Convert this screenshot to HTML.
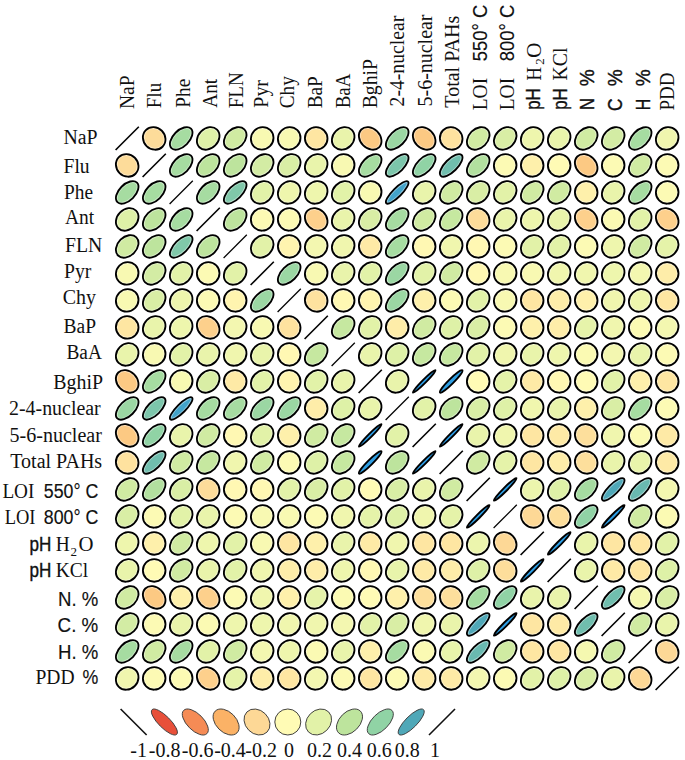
<!DOCTYPE html>
<html><head><meta charset="utf-8"><title>Correlation matrix</title>
<style>
html,body{margin:0;padding:0;background:#fff;}
body{width:685px;height:760px;overflow:hidden;font-family:"Liberation Serif",serif;}
svg{display:block;}
text{fill:#111;}
.h{stroke:#fff;stroke-opacity:.42;stroke-width:3.7}
.o{fill:none;stroke:#000;stroke-width:1.85}
</style></head><body>
<svg width="685" height="760" viewBox="0 0 685 760">
<rect width="685" height="760" fill="#ffffff"/>
<g>
<line x1="115.6" y1="150.0" x2="138.8" y2="126.8" stroke="#000" stroke-width="1.6"/>
<g transform="translate(154.2 138.4) rotate(-45)"><ellipse rx="10.79" ry="11.79" fill="#fddc9a" class="h"/><ellipse rx="10.79" ry="11.79" class="o"/></g>
<g transform="translate(181.2 138.4) rotate(-45)"><ellipse rx="13.84" ry="7.99" fill="#a6dca1" class="h"/><ellipse rx="13.84" ry="7.99" class="o"/></g>
<g transform="translate(208.2 138.4) rotate(-45)"><ellipse rx="12.48" ry="9.98" fill="#def1a7" class="h"/><ellipse rx="12.48" ry="9.98" class="o"/></g>
<g transform="translate(235.2 138.4) rotate(-45)"><ellipse rx="12.88" ry="9.45" fill="#d0eba2" class="h"/><ellipse rx="12.88" ry="9.45" class="o"/></g>
<g transform="translate(262.2 138.4) rotate(-45)"><ellipse rx="11.58" ry="11.01" fill="#f8f9b2" class="h"/><ellipse rx="11.58" ry="11.01" class="o"/></g>
<g transform="translate(289.2 138.4) rotate(-45)"><ellipse rx="11.58" ry="11.01" fill="#f8f9b2" class="h"/><ellipse rx="11.58" ry="11.01" class="o"/></g>
<g transform="translate(316.2 138.4) rotate(-45)"><ellipse rx="11.18" ry="11.41" fill="#fee6a2" class="h"/><ellipse rx="11.18" ry="11.41" class="o"/></g>
<g transform="translate(343.2 138.4) rotate(-45)"><ellipse rx="12.12" ry="10.42" fill="#e9f4ab" class="h"/><ellipse rx="12.12" ry="10.42" class="o"/></g>
<g transform="translate(370.2 138.4) rotate(-45)"><ellipse rx="9.86" ry="12.58" fill="#fcc983" class="h"/><ellipse rx="9.86" ry="12.58" class="o"/></g>
<g transform="translate(397.2 138.4) rotate(-45)"><ellipse rx="14.07" ry="7.58" fill="#9bd7a3" class="h"/><ellipse rx="14.07" ry="7.58" class="o"/></g>
<g transform="translate(424.2 138.4) rotate(-45)"><ellipse rx="9.86" ry="12.58" fill="#fcc983" class="h"/><ellipse rx="9.86" ry="12.58" class="o"/></g>
<g transform="translate(451.2 138.4) rotate(-45)"><ellipse rx="11.06" ry="11.54" fill="#fee29f" class="h"/><ellipse rx="11.06" ry="11.54" class="o"/></g>
<g transform="translate(478.2 138.4) rotate(-45)"><ellipse rx="12.88" ry="9.45" fill="#d0eba2" class="h"/><ellipse rx="12.88" ry="9.45" class="o"/></g>
<g transform="translate(505.2 138.4) rotate(-45)"><ellipse rx="12.63" ry="9.79" fill="#d9eea5" class="h"/><ellipse rx="12.63" ry="9.79" class="o"/></g>
<g transform="translate(532.2 138.4) rotate(-45)"><ellipse rx="11.96" ry="10.60" fill="#eef6ad" class="h"/><ellipse rx="11.96" ry="10.60" class="o"/></g>
<g transform="translate(559.2 138.4) rotate(-45)"><ellipse rx="12.12" ry="10.42" fill="#e9f4ab" class="h"/><ellipse rx="12.12" ry="10.42" class="o"/></g>
<g transform="translate(586.2 138.4) rotate(-45)"><ellipse rx="12.88" ry="9.45" fill="#d0eba2" class="h"/><ellipse rx="12.88" ry="9.45" class="o"/></g>
<g transform="translate(613.2 138.4) rotate(-45)"><ellipse rx="12.78" ry="9.59" fill="#d3eca4" class="h"/><ellipse rx="12.78" ry="9.59" class="o"/></g>
<g transform="translate(640.2 138.4) rotate(-45)"><ellipse rx="13.84" ry="7.99" fill="#a6dca1" class="h"/><ellipse rx="13.84" ry="7.99" class="o"/></g>
<g transform="translate(667.2 138.4) rotate(-45)"><ellipse rx="11.85" ry="10.72" fill="#f0f6ae" class="h"/><ellipse rx="11.85" ry="10.72" class="o"/></g>
<g transform="translate(127.2 165.4) rotate(-45)"><ellipse rx="10.79" ry="11.79" fill="#fddc9a" class="h"/><ellipse rx="10.79" ry="11.79" class="o"/></g>
<line x1="142.6" y1="177.0" x2="165.8" y2="153.8" stroke="#000" stroke-width="1.6"/>
<g transform="translate(181.2 165.4) rotate(-45)"><ellipse rx="13.84" ry="7.99" fill="#a6dca1" class="h"/><ellipse rx="13.84" ry="7.99" class="o"/></g>
<g transform="translate(208.2 165.4) rotate(-45)"><ellipse rx="13.37" ry="8.75" fill="#bde49d" class="h"/><ellipse rx="13.37" ry="8.75" class="o"/></g>
<g transform="translate(235.2 165.4) rotate(-45)"><ellipse rx="13.37" ry="8.75" fill="#bde49d" class="h"/><ellipse rx="13.37" ry="8.75" class="o"/></g>
<g transform="translate(262.2 165.4) rotate(-45)"><ellipse rx="12.78" ry="9.59" fill="#d3eca4" class="h"/><ellipse rx="12.78" ry="9.59" class="o"/></g>
<g transform="translate(289.2 165.4) rotate(-45)"><ellipse rx="12.63" ry="9.79" fill="#d9eea5" class="h"/><ellipse rx="12.63" ry="9.79" class="o"/></g>
<g transform="translate(316.2 165.4) rotate(-45)"><ellipse rx="12.12" ry="10.42" fill="#e9f4ab" class="h"/><ellipse rx="12.12" ry="10.42" class="o"/></g>
<g transform="translate(343.2 165.4) rotate(-45)"><ellipse rx="11.58" ry="11.01" fill="#f8f9b2" class="h"/><ellipse rx="11.58" ry="11.01" class="o"/></g>
<g transform="translate(370.2 165.4) rotate(-45)"><ellipse rx="13.84" ry="7.99" fill="#a6dca1" class="h"/><ellipse rx="13.84" ry="7.99" class="o"/></g>
<g transform="translate(397.2 165.4) rotate(-45)"><ellipse rx="14.56" ry="6.59" fill="#7cc6ab" class="h"/><ellipse rx="14.56" ry="6.59" class="o"/></g>
<g transform="translate(424.2 165.4) rotate(-45)"><ellipse rx="14.29" ry="7.15" fill="#90d3a5" class="h"/><ellipse rx="14.29" ry="7.15" class="o"/></g>
<g transform="translate(451.2 165.4) rotate(-45)"><ellipse rx="14.73" ry="6.19" fill="#70beae" class="h"/><ellipse rx="14.73" ry="6.19" class="o"/></g>
<g transform="translate(478.2 165.4) rotate(-45)"><ellipse rx="13.61" ry="8.38" fill="#b2e09f" class="h"/><ellipse rx="13.61" ry="8.38" class="o"/></g>
<g transform="translate(505.2 165.4) rotate(-45)"><ellipse rx="11.41" ry="11.19" fill="#fcfab4" class="h"/><ellipse rx="11.41" ry="11.19" class="o"/></g>
<g transform="translate(532.2 165.4) rotate(-45)"><ellipse rx="11.24" ry="11.36" fill="#fef0ab" class="h"/><ellipse rx="11.24" ry="11.36" class="o"/></g>
<g transform="translate(559.2 165.4) rotate(-45)"><ellipse rx="11.30" ry="11.30" fill="#fffbb5" class="h"/><ellipse rx="11.30" ry="11.30" class="o"/></g>
<g transform="translate(586.2 165.4) rotate(-45)"><ellipse rx="9.86" ry="12.58" fill="#fcc983" class="h"/><ellipse rx="9.86" ry="12.58" class="o"/></g>
<g transform="translate(613.2 165.4) rotate(-45)"><ellipse rx="11.41" ry="11.19" fill="#fcfab4" class="h"/><ellipse rx="11.41" ry="11.19" class="o"/></g>
<g transform="translate(640.2 165.4) rotate(-45)"><ellipse rx="12.88" ry="9.45" fill="#d0eba2" class="h"/><ellipse rx="12.88" ry="9.45" class="o"/></g>
<g transform="translate(667.2 165.4) rotate(-45)"><ellipse rx="11.41" ry="11.19" fill="#fcfab4" class="h"/><ellipse rx="11.41" ry="11.19" class="o"/></g>
<g transform="translate(127.2 192.4) rotate(-45)"><ellipse rx="13.84" ry="7.99" fill="#a6dca1" class="h"/><ellipse rx="13.84" ry="7.99" class="o"/></g>
<g transform="translate(154.2 192.4) rotate(-45)"><ellipse rx="13.84" ry="7.99" fill="#a6dca1" class="h"/><ellipse rx="13.84" ry="7.99" class="o"/></g>
<line x1="169.6" y1="204.0" x2="192.8" y2="180.8" stroke="#000" stroke-width="1.25"/>
<g transform="translate(208.2 192.4) rotate(-45)"><ellipse rx="13.84" ry="7.99" fill="#a6dca1" class="h"/><ellipse rx="13.84" ry="7.99" class="o"/></g>
<g transform="translate(235.2 192.4) rotate(-45)"><ellipse rx="14.52" ry="6.69" fill="#80c8aa" class="h"/><ellipse rx="14.52" ry="6.69" class="o"/></g>
<g transform="translate(262.2 192.4) rotate(-45)"><ellipse rx="12.38" ry="10.11" fill="#e2f2a8" class="h"/><ellipse rx="12.38" ry="10.11" class="o"/></g>
<g transform="translate(289.2 192.4) rotate(-45)"><ellipse rx="11.96" ry="10.60" fill="#eef6ad" class="h"/><ellipse rx="11.96" ry="10.60" class="o"/></g>
<g transform="translate(316.2 192.4) rotate(-45)"><ellipse rx="11.96" ry="10.60" fill="#eef6ad" class="h"/><ellipse rx="11.96" ry="10.60" class="o"/></g>
<g transform="translate(343.2 192.4) rotate(-45)"><ellipse rx="12.38" ry="10.11" fill="#e2f2a8" class="h"/><ellipse rx="12.38" ry="10.11" class="o"/></g>
<g transform="translate(370.2 192.4) rotate(-45)"><ellipse rx="11.58" ry="11.01" fill="#f8f9b2" class="h"/><ellipse rx="11.58" ry="11.01" class="o"/></g>
<g transform="translate(397.2 192.4) rotate(-45)"><ellipse rx="15.37" ry="4.38" fill="#42a3ca" class="h"/><ellipse rx="15.37" ry="4.38" class="o"/></g>
<g transform="translate(424.2 192.4) rotate(-45)"><ellipse rx="12.12" ry="10.42" fill="#e9f4ab" class="h"/><ellipse rx="12.12" ry="10.42" class="o"/></g>
<g transform="translate(451.2 192.4) rotate(-45)"><ellipse rx="12.88" ry="9.45" fill="#d0eba2" class="h"/><ellipse rx="12.88" ry="9.45" class="o"/></g>
<g transform="translate(478.2 192.4) rotate(-45)"><ellipse rx="12.63" ry="9.79" fill="#d9eea5" class="h"/><ellipse rx="12.63" ry="9.79" class="o"/></g>
<g transform="translate(505.2 192.4) rotate(-45)"><ellipse rx="12.38" ry="10.11" fill="#e2f2a8" class="h"/><ellipse rx="12.38" ry="10.11" class="o"/></g>
<g transform="translate(532.2 192.4) rotate(-45)"><ellipse rx="12.88" ry="9.45" fill="#d0eba2" class="h"/><ellipse rx="12.88" ry="9.45" class="o"/></g>
<g transform="translate(559.2 192.4) rotate(-45)"><ellipse rx="12.88" ry="9.45" fill="#d0eba2" class="h"/><ellipse rx="12.88" ry="9.45" class="o"/></g>
<g transform="translate(586.2 192.4) rotate(-45)"><ellipse rx="11.24" ry="11.36" fill="#fef0ab" class="h"/><ellipse rx="11.24" ry="11.36" class="o"/></g>
<g transform="translate(613.2 192.4) rotate(-45)"><ellipse rx="12.12" ry="10.42" fill="#e9f4ab" class="h"/><ellipse rx="12.12" ry="10.42" class="o"/></g>
<g transform="translate(640.2 192.4) rotate(-45)"><ellipse rx="13.84" ry="7.99" fill="#a6dca1" class="h"/><ellipse rx="13.84" ry="7.99" class="o"/></g>
<g transform="translate(667.2 192.4) rotate(-45)"><ellipse rx="11.41" ry="11.19" fill="#fcfab4" class="h"/><ellipse rx="11.41" ry="11.19" class="o"/></g>
<g transform="translate(127.2 219.4) rotate(-45)"><ellipse rx="12.48" ry="9.98" fill="#def1a7" class="h"/><ellipse rx="12.48" ry="9.98" class="o"/></g>
<g transform="translate(154.2 219.4) rotate(-45)"><ellipse rx="13.37" ry="8.75" fill="#bde49d" class="h"/><ellipse rx="13.37" ry="8.75" class="o"/></g>
<g transform="translate(181.2 219.4) rotate(-45)"><ellipse rx="13.84" ry="7.99" fill="#a6dca1" class="h"/><ellipse rx="13.84" ry="7.99" class="o"/></g>
<line x1="196.6" y1="231.0" x2="219.8" y2="207.8" stroke="#000" stroke-width="1.6"/>
<g transform="translate(235.2 219.4) rotate(-45)"><ellipse rx="13.37" ry="8.75" fill="#bde49d" class="h"/><ellipse rx="13.37" ry="8.75" class="o"/></g>
<g transform="translate(262.2 219.4) rotate(-45)"><ellipse rx="11.41" ry="11.19" fill="#fcfab4" class="h"/><ellipse rx="11.41" ry="11.19" class="o"/></g>
<g transform="translate(289.2 219.4) rotate(-45)"><ellipse rx="11.41" ry="11.19" fill="#fcfab4" class="h"/><ellipse rx="11.41" ry="11.19" class="o"/></g>
<g transform="translate(316.2 219.4) rotate(-45)"><ellipse rx="10.22" ry="12.28" fill="#fdd08c" class="h"/><ellipse rx="10.22" ry="12.28" class="o"/></g>
<g transform="translate(343.2 219.4) rotate(-45)"><ellipse rx="12.12" ry="10.42" fill="#e9f4ab" class="h"/><ellipse rx="12.12" ry="10.42" class="o"/></g>
<g transform="translate(370.2 219.4) rotate(-45)"><ellipse rx="12.63" ry="9.79" fill="#d9eea5" class="h"/><ellipse rx="12.63" ry="9.79" class="o"/></g>
<g transform="translate(397.2 219.4) rotate(-45)"><ellipse rx="13.84" ry="7.99" fill="#a6dca1" class="h"/><ellipse rx="13.84" ry="7.99" class="o"/></g>
<g transform="translate(424.2 219.4) rotate(-45)"><ellipse rx="12.88" ry="9.45" fill="#d0eba2" class="h"/><ellipse rx="12.88" ry="9.45" class="o"/></g>
<g transform="translate(451.2 219.4) rotate(-45)"><ellipse rx="13.13" ry="9.11" fill="#c6e8a0" class="h"/><ellipse rx="13.13" ry="9.11" class="o"/></g>
<g transform="translate(478.2 219.4) rotate(-45)"><ellipse rx="10.79" ry="11.79" fill="#fddc9a" class="h"/><ellipse rx="10.79" ry="11.79" class="o"/></g>
<g transform="translate(505.2 219.4) rotate(-45)"><ellipse rx="12.12" ry="10.42" fill="#e9f4ab" class="h"/><ellipse rx="12.12" ry="10.42" class="o"/></g>
<g transform="translate(532.2 219.4) rotate(-45)"><ellipse rx="11.96" ry="10.60" fill="#eef6ad" class="h"/><ellipse rx="11.96" ry="10.60" class="o"/></g>
<g transform="translate(559.2 219.4) rotate(-45)"><ellipse rx="12.12" ry="10.42" fill="#e9f4ab" class="h"/><ellipse rx="12.12" ry="10.42" class="o"/></g>
<g transform="translate(586.2 219.4) rotate(-45)"><ellipse rx="10.22" ry="12.28" fill="#fdd08c" class="h"/><ellipse rx="10.22" ry="12.28" class="o"/></g>
<g transform="translate(613.2 219.4) rotate(-45)"><ellipse rx="11.47" ry="11.13" fill="#fbfab3" class="h"/><ellipse rx="11.47" ry="11.13" class="o"/></g>
<g transform="translate(640.2 219.4) rotate(-45)"><ellipse rx="12.38" ry="10.11" fill="#e2f2a8" class="h"/><ellipse rx="12.38" ry="10.11" class="o"/></g>
<g transform="translate(667.2 219.4) rotate(-45)"><ellipse rx="10.22" ry="12.28" fill="#fdd08c" class="h"/><ellipse rx="10.22" ry="12.28" class="o"/></g>
<g transform="translate(127.2 246.4) rotate(-45)"><ellipse rx="12.88" ry="9.45" fill="#d0eba2" class="h"/><ellipse rx="12.88" ry="9.45" class="o"/></g>
<g transform="translate(154.2 246.4) rotate(-45)"><ellipse rx="13.37" ry="8.75" fill="#bde49d" class="h"/><ellipse rx="13.37" ry="8.75" class="o"/></g>
<g transform="translate(181.2 246.4) rotate(-45)"><ellipse rx="14.52" ry="6.69" fill="#80c8aa" class="h"/><ellipse rx="14.52" ry="6.69" class="o"/></g>
<g transform="translate(208.2 246.4) rotate(-45)"><ellipse rx="13.37" ry="8.75" fill="#bde49d" class="h"/><ellipse rx="13.37" ry="8.75" class="o"/></g>
<line x1="223.6" y1="258.0" x2="246.8" y2="234.8" stroke="#000" stroke-width="1.25"/>
<g transform="translate(262.2 246.4) rotate(-45)"><ellipse rx="12.38" ry="10.11" fill="#e2f2a8" class="h"/><ellipse rx="12.38" ry="10.11" class="o"/></g>
<g transform="translate(289.2 246.4) rotate(-45)"><ellipse rx="11.26" ry="11.34" fill="#fff4af" class="h"/><ellipse rx="11.26" ry="11.34" class="o"/></g>
<g transform="translate(316.2 246.4) rotate(-45)"><ellipse rx="11.74" ry="10.84" fill="#f3f7b0" class="h"/><ellipse rx="11.74" ry="10.84" class="o"/></g>
<g transform="translate(343.2 246.4) rotate(-45)"><ellipse rx="11.85" ry="10.72" fill="#f0f6ae" class="h"/><ellipse rx="11.85" ry="10.72" class="o"/></g>
<g transform="translate(370.2 246.4) rotate(-45)"><ellipse rx="11.21" ry="11.39" fill="#feeaa6" class="h"/><ellipse rx="11.21" ry="11.39" class="o"/></g>
<g transform="translate(397.2 246.4) rotate(-45)"><ellipse rx="13.84" ry="7.99" fill="#a6dca1" class="h"/><ellipse rx="13.84" ry="7.99" class="o"/></g>
<g transform="translate(424.2 246.4) rotate(-45)"><ellipse rx="11.28" ry="11.32" fill="#fff8b3" class="h"/><ellipse rx="11.28" ry="11.32" class="o"/></g>
<g transform="translate(451.2 246.4) rotate(-45)"><ellipse rx="11.85" ry="10.72" fill="#f0f6ae" class="h"/><ellipse rx="11.85" ry="10.72" class="o"/></g>
<g transform="translate(478.2 246.4) rotate(-45)"><ellipse rx="11.28" ry="11.32" fill="#fff8b3" class="h"/><ellipse rx="11.28" ry="11.32" class="o"/></g>
<g transform="translate(505.2 246.4) rotate(-45)"><ellipse rx="11.41" ry="11.19" fill="#fcfab4" class="h"/><ellipse rx="11.41" ry="11.19" class="o"/></g>
<g transform="translate(532.2 246.4) rotate(-45)"><ellipse rx="12.38" ry="10.11" fill="#e2f2a8" class="h"/><ellipse rx="12.38" ry="10.11" class="o"/></g>
<g transform="translate(559.2 246.4) rotate(-45)"><ellipse rx="12.38" ry="10.11" fill="#e2f2a8" class="h"/><ellipse rx="12.38" ry="10.11" class="o"/></g>
<g transform="translate(586.2 246.4) rotate(-45)"><ellipse rx="11.41" ry="11.19" fill="#fcfab4" class="h"/><ellipse rx="11.41" ry="11.19" class="o"/></g>
<g transform="translate(613.2 246.4) rotate(-45)"><ellipse rx="11.96" ry="10.60" fill="#eef6ad" class="h"/><ellipse rx="11.96" ry="10.60" class="o"/></g>
<g transform="translate(640.2 246.4) rotate(-45)"><ellipse rx="12.88" ry="9.45" fill="#d0eba2" class="h"/><ellipse rx="12.88" ry="9.45" class="o"/></g>
<g transform="translate(667.2 246.4) rotate(-45)"><ellipse rx="12.27" ry="10.23" fill="#e5f3a9" class="h"/><ellipse rx="12.27" ry="10.23" class="o"/></g>
<g transform="translate(127.2 273.4) rotate(-45)"><ellipse rx="11.58" ry="11.01" fill="#f8f9b2" class="h"/><ellipse rx="11.58" ry="11.01" class="o"/></g>
<g transform="translate(154.2 273.4) rotate(-45)"><ellipse rx="12.78" ry="9.59" fill="#d3eca4" class="h"/><ellipse rx="12.78" ry="9.59" class="o"/></g>
<g transform="translate(181.2 273.4) rotate(-45)"><ellipse rx="12.38" ry="10.11" fill="#e2f2a8" class="h"/><ellipse rx="12.38" ry="10.11" class="o"/></g>
<g transform="translate(208.2 273.4) rotate(-45)"><ellipse rx="11.41" ry="11.19" fill="#fcfab4" class="h"/><ellipse rx="11.41" ry="11.19" class="o"/></g>
<g transform="translate(235.2 273.4) rotate(-45)"><ellipse rx="12.38" ry="10.11" fill="#e2f2a8" class="h"/><ellipse rx="12.38" ry="10.11" class="o"/></g>
<line x1="250.6" y1="285.0" x2="273.8" y2="261.8" stroke="#000" stroke-width="1.6"/>
<g transform="translate(289.2 273.4) rotate(-45)"><ellipse rx="14.07" ry="7.58" fill="#9bd7a3" class="h"/><ellipse rx="14.07" ry="7.58" class="o"/></g>
<g transform="translate(316.2 273.4) rotate(-45)"><ellipse rx="11.58" ry="11.01" fill="#f8f9b2" class="h"/><ellipse rx="11.58" ry="11.01" class="o"/></g>
<g transform="translate(343.2 273.4) rotate(-45)"><ellipse rx="12.12" ry="10.42" fill="#e9f4ab" class="h"/><ellipse rx="12.12" ry="10.42" class="o"/></g>
<g transform="translate(370.2 273.4) rotate(-45)"><ellipse rx="12.38" ry="10.11" fill="#e2f2a8" class="h"/><ellipse rx="12.38" ry="10.11" class="o"/></g>
<g transform="translate(397.2 273.4) rotate(-45)"><ellipse rx="14.07" ry="7.58" fill="#9bd7a3" class="h"/><ellipse rx="14.07" ry="7.58" class="o"/></g>
<g transform="translate(424.2 273.4) rotate(-45)"><ellipse rx="12.38" ry="10.11" fill="#e2f2a8" class="h"/><ellipse rx="12.38" ry="10.11" class="o"/></g>
<g transform="translate(451.2 273.4) rotate(-45)"><ellipse rx="12.88" ry="9.45" fill="#d0eba2" class="h"/><ellipse rx="12.88" ry="9.45" class="o"/></g>
<g transform="translate(478.2 273.4) rotate(-45)"><ellipse rx="11.28" ry="11.32" fill="#fff8b3" class="h"/><ellipse rx="11.28" ry="11.32" class="o"/></g>
<g transform="translate(505.2 273.4) rotate(-45)"><ellipse rx="11.58" ry="11.01" fill="#f8f9b2" class="h"/><ellipse rx="11.58" ry="11.01" class="o"/></g>
<g transform="translate(532.2 273.4) rotate(-45)"><ellipse rx="11.58" ry="11.01" fill="#f8f9b2" class="h"/><ellipse rx="11.58" ry="11.01" class="o"/></g>
<g transform="translate(559.2 273.4) rotate(-45)"><ellipse rx="11.85" ry="10.72" fill="#f0f6ae" class="h"/><ellipse rx="11.85" ry="10.72" class="o"/></g>
<g transform="translate(586.2 273.4) rotate(-45)"><ellipse rx="11.85" ry="10.72" fill="#f0f6ae" class="h"/><ellipse rx="11.85" ry="10.72" class="o"/></g>
<g transform="translate(613.2 273.4) rotate(-45)"><ellipse rx="11.96" ry="10.60" fill="#eef6ad" class="h"/><ellipse rx="11.96" ry="10.60" class="o"/></g>
<g transform="translate(640.2 273.4) rotate(-45)"><ellipse rx="11.74" ry="10.84" fill="#f3f7b0" class="h"/><ellipse rx="11.74" ry="10.84" class="o"/></g>
<g transform="translate(667.2 273.4) rotate(-45)"><ellipse rx="11.22" ry="11.38" fill="#feeda9" class="h"/><ellipse rx="11.22" ry="11.38" class="o"/></g>
<g transform="translate(127.2 300.4) rotate(-45)"><ellipse rx="11.58" ry="11.01" fill="#f8f9b2" class="h"/><ellipse rx="11.58" ry="11.01" class="o"/></g>
<g transform="translate(154.2 300.4) rotate(-45)"><ellipse rx="12.63" ry="9.79" fill="#d9eea5" class="h"/><ellipse rx="12.63" ry="9.79" class="o"/></g>
<g transform="translate(181.2 300.4) rotate(-45)"><ellipse rx="11.96" ry="10.60" fill="#eef6ad" class="h"/><ellipse rx="11.96" ry="10.60" class="o"/></g>
<g transform="translate(208.2 300.4) rotate(-45)"><ellipse rx="11.41" ry="11.19" fill="#fcfab4" class="h"/><ellipse rx="11.41" ry="11.19" class="o"/></g>
<g transform="translate(235.2 300.4) rotate(-45)"><ellipse rx="11.26" ry="11.34" fill="#fff4af" class="h"/><ellipse rx="11.26" ry="11.34" class="o"/></g>
<g transform="translate(262.2 300.4) rotate(-45)"><ellipse rx="14.07" ry="7.58" fill="#9bd7a3" class="h"/><ellipse rx="14.07" ry="7.58" class="o"/></g>
<line x1="277.6" y1="312.0" x2="300.8" y2="288.8" stroke="#000" stroke-width="1.25"/>
<g transform="translate(316.2 300.4) rotate(-45)"><ellipse rx="11.06" ry="11.54" fill="#fee29f" class="h"/><ellipse rx="11.06" ry="11.54" class="o"/></g>
<g transform="translate(343.2 300.4) rotate(-45)"><ellipse rx="11.28" ry="11.32" fill="#fff8b3" class="h"/><ellipse rx="11.28" ry="11.32" class="o"/></g>
<g transform="translate(370.2 300.4) rotate(-45)"><ellipse rx="11.26" ry="11.34" fill="#fff4af" class="h"/><ellipse rx="11.26" ry="11.34" class="o"/></g>
<g transform="translate(397.2 300.4) rotate(-45)"><ellipse rx="14.07" ry="7.58" fill="#9bd7a3" class="h"/><ellipse rx="14.07" ry="7.58" class="o"/></g>
<g transform="translate(424.2 300.4) rotate(-45)"><ellipse rx="11.24" ry="11.36" fill="#fef0ab" class="h"/><ellipse rx="11.24" ry="11.36" class="o"/></g>
<g transform="translate(451.2 300.4) rotate(-45)"><ellipse rx="11.41" ry="11.19" fill="#fcfab4" class="h"/><ellipse rx="11.41" ry="11.19" class="o"/></g>
<g transform="translate(478.2 300.4) rotate(-45)"><ellipse rx="12.38" ry="10.11" fill="#e2f2a8" class="h"/><ellipse rx="12.38" ry="10.11" class="o"/></g>
<g transform="translate(505.2 300.4) rotate(-45)"><ellipse rx="11.58" ry="11.01" fill="#f8f9b2" class="h"/><ellipse rx="11.58" ry="11.01" class="o"/></g>
<g transform="translate(532.2 300.4) rotate(-45)"><ellipse rx="11.18" ry="11.41" fill="#fee6a2" class="h"/><ellipse rx="11.18" ry="11.41" class="o"/></g>
<g transform="translate(559.2 300.4) rotate(-45)"><ellipse rx="11.22" ry="11.38" fill="#feeda9" class="h"/><ellipse rx="11.22" ry="11.38" class="o"/></g>
<g transform="translate(586.2 300.4) rotate(-45)"><ellipse rx="11.24" ry="11.36" fill="#fef0ab" class="h"/><ellipse rx="11.24" ry="11.36" class="o"/></g>
<g transform="translate(613.2 300.4) rotate(-45)"><ellipse rx="11.85" ry="10.72" fill="#f0f6ae" class="h"/><ellipse rx="11.85" ry="10.72" class="o"/></g>
<g transform="translate(640.2 300.4) rotate(-45)"><ellipse rx="11.96" ry="10.60" fill="#eef6ad" class="h"/><ellipse rx="11.96" ry="10.60" class="o"/></g>
<g transform="translate(667.2 300.4) rotate(-45)"><ellipse rx="11.18" ry="11.41" fill="#fee6a2" class="h"/><ellipse rx="11.18" ry="11.41" class="o"/></g>
<g transform="translate(127.2 327.4) rotate(-45)"><ellipse rx="11.18" ry="11.41" fill="#fee6a2" class="h"/><ellipse rx="11.18" ry="11.41" class="o"/></g>
<g transform="translate(154.2 327.4) rotate(-45)"><ellipse rx="12.12" ry="10.42" fill="#e9f4ab" class="h"/><ellipse rx="12.12" ry="10.42" class="o"/></g>
<g transform="translate(181.2 327.4) rotate(-45)"><ellipse rx="11.96" ry="10.60" fill="#eef6ad" class="h"/><ellipse rx="11.96" ry="10.60" class="o"/></g>
<g transform="translate(208.2 327.4) rotate(-45)"><ellipse rx="10.22" ry="12.28" fill="#fdd08c" class="h"/><ellipse rx="10.22" ry="12.28" class="o"/></g>
<g transform="translate(235.2 327.4) rotate(-45)"><ellipse rx="11.74" ry="10.84" fill="#f3f7b0" class="h"/><ellipse rx="11.74" ry="10.84" class="o"/></g>
<g transform="translate(262.2 327.4) rotate(-45)"><ellipse rx="11.58" ry="11.01" fill="#f8f9b2" class="h"/><ellipse rx="11.58" ry="11.01" class="o"/></g>
<g transform="translate(289.2 327.4) rotate(-45)"><ellipse rx="11.06" ry="11.54" fill="#fee29f" class="h"/><ellipse rx="11.06" ry="11.54" class="o"/></g>
<line x1="304.6" y1="339.0" x2="327.8" y2="315.8" stroke="#000" stroke-width="1.6"/>
<g transform="translate(343.2 327.4) rotate(-45)"><ellipse rx="13.13" ry="9.11" fill="#c6e8a0" class="h"/><ellipse rx="13.13" ry="9.11" class="o"/></g>
<g transform="translate(370.2 327.4) rotate(-45)"><ellipse rx="12.38" ry="10.11" fill="#e2f2a8" class="h"/><ellipse rx="12.38" ry="10.11" class="o"/></g>
<g transform="translate(397.2 327.4) rotate(-45)"><ellipse rx="11.22" ry="11.38" fill="#feeda9" class="h"/><ellipse rx="11.22" ry="11.38" class="o"/></g>
<g transform="translate(424.2 327.4) rotate(-45)"><ellipse rx="12.88" ry="9.45" fill="#d0eba2" class="h"/><ellipse rx="12.88" ry="9.45" class="o"/></g>
<g transform="translate(451.2 327.4) rotate(-45)"><ellipse rx="12.48" ry="9.98" fill="#def1a7" class="h"/><ellipse rx="12.48" ry="9.98" class="o"/></g>
<g transform="translate(478.2 327.4) rotate(-45)"><ellipse rx="12.63" ry="9.79" fill="#d9eea5" class="h"/><ellipse rx="12.63" ry="9.79" class="o"/></g>
<g transform="translate(505.2 327.4) rotate(-45)"><ellipse rx="11.41" ry="11.19" fill="#fcfab4" class="h"/><ellipse rx="11.41" ry="11.19" class="o"/></g>
<g transform="translate(532.2 327.4) rotate(-45)"><ellipse rx="11.24" ry="11.36" fill="#fef0ab" class="h"/><ellipse rx="11.24" ry="11.36" class="o"/></g>
<g transform="translate(559.2 327.4) rotate(-45)"><ellipse rx="11.22" ry="11.38" fill="#feeda9" class="h"/><ellipse rx="11.22" ry="11.38" class="o"/></g>
<g transform="translate(586.2 327.4) rotate(-45)"><ellipse rx="12.22" ry="10.29" fill="#e6f3aa" class="h"/><ellipse rx="12.22" ry="10.29" class="o"/></g>
<g transform="translate(613.2 327.4) rotate(-45)"><ellipse rx="11.85" ry="10.72" fill="#f0f6ae" class="h"/><ellipse rx="11.85" ry="10.72" class="o"/></g>
<g transform="translate(640.2 327.4) rotate(-45)"><ellipse rx="11.47" ry="11.13" fill="#fbfab3" class="h"/><ellipse rx="11.47" ry="11.13" class="o"/></g>
<g transform="translate(667.2 327.4) rotate(-45)"><ellipse rx="11.74" ry="10.84" fill="#f3f7b0" class="h"/><ellipse rx="11.74" ry="10.84" class="o"/></g>
<g transform="translate(127.2 354.4) rotate(-45)"><ellipse rx="12.12" ry="10.42" fill="#e9f4ab" class="h"/><ellipse rx="12.12" ry="10.42" class="o"/></g>
<g transform="translate(154.2 354.4) rotate(-45)"><ellipse rx="11.58" ry="11.01" fill="#f8f9b2" class="h"/><ellipse rx="11.58" ry="11.01" class="o"/></g>
<g transform="translate(181.2 354.4) rotate(-45)"><ellipse rx="12.38" ry="10.11" fill="#e2f2a8" class="h"/><ellipse rx="12.38" ry="10.11" class="o"/></g>
<g transform="translate(208.2 354.4) rotate(-45)"><ellipse rx="12.12" ry="10.42" fill="#e9f4ab" class="h"/><ellipse rx="12.12" ry="10.42" class="o"/></g>
<g transform="translate(235.2 354.4) rotate(-45)"><ellipse rx="11.85" ry="10.72" fill="#f0f6ae" class="h"/><ellipse rx="11.85" ry="10.72" class="o"/></g>
<g transform="translate(262.2 354.4) rotate(-45)"><ellipse rx="12.12" ry="10.42" fill="#e9f4ab" class="h"/><ellipse rx="12.12" ry="10.42" class="o"/></g>
<g transform="translate(289.2 354.4) rotate(-45)"><ellipse rx="11.28" ry="11.32" fill="#fff8b3" class="h"/><ellipse rx="11.28" ry="11.32" class="o"/></g>
<g transform="translate(316.2 354.4) rotate(-45)"><ellipse rx="13.13" ry="9.11" fill="#c6e8a0" class="h"/><ellipse rx="13.13" ry="9.11" class="o"/></g>
<line x1="331.6" y1="366.0" x2="354.8" y2="342.8" stroke="#000" stroke-width="1.25"/>
<g transform="translate(370.2 354.4) rotate(-45)"><ellipse rx="12.12" ry="10.42" fill="#e9f4ab" class="h"/><ellipse rx="12.12" ry="10.42" class="o"/></g>
<g transform="translate(397.2 354.4) rotate(-45)"><ellipse rx="12.48" ry="9.98" fill="#def1a7" class="h"/><ellipse rx="12.48" ry="9.98" class="o"/></g>
<g transform="translate(424.2 354.4) rotate(-45)"><ellipse rx="13.13" ry="9.11" fill="#c6e8a0" class="h"/><ellipse rx="13.13" ry="9.11" class="o"/></g>
<g transform="translate(451.2 354.4) rotate(-45)"><ellipse rx="13.13" ry="9.11" fill="#c6e8a0" class="h"/><ellipse rx="13.13" ry="9.11" class="o"/></g>
<g transform="translate(478.2 354.4) rotate(-45)"><ellipse rx="12.38" ry="10.11" fill="#e2f2a8" class="h"/><ellipse rx="12.38" ry="10.11" class="o"/></g>
<g transform="translate(505.2 354.4) rotate(-45)"><ellipse rx="11.85" ry="10.72" fill="#f0f6ae" class="h"/><ellipse rx="11.85" ry="10.72" class="o"/></g>
<g transform="translate(532.2 354.4) rotate(-45)"><ellipse rx="12.12" ry="10.42" fill="#e9f4ab" class="h"/><ellipse rx="12.12" ry="10.42" class="o"/></g>
<g transform="translate(559.2 354.4) rotate(-45)"><ellipse rx="11.96" ry="10.60" fill="#eef6ad" class="h"/><ellipse rx="11.96" ry="10.60" class="o"/></g>
<g transform="translate(586.2 354.4) rotate(-45)"><ellipse rx="11.47" ry="11.13" fill="#fbfab3" class="h"/><ellipse rx="11.47" ry="11.13" class="o"/></g>
<g transform="translate(613.2 354.4) rotate(-45)"><ellipse rx="11.74" ry="10.84" fill="#f3f7b0" class="h"/><ellipse rx="11.74" ry="10.84" class="o"/></g>
<g transform="translate(640.2 354.4) rotate(-45)"><ellipse rx="12.12" ry="10.42" fill="#e9f4ab" class="h"/><ellipse rx="12.12" ry="10.42" class="o"/></g>
<g transform="translate(667.2 354.4) rotate(-45)"><ellipse rx="11.41" ry="11.19" fill="#fcfab4" class="h"/><ellipse rx="11.41" ry="11.19" class="o"/></g>
<g transform="translate(127.2 381.4) rotate(-45)"><ellipse rx="9.86" ry="12.58" fill="#fcc983" class="h"/><ellipse rx="9.86" ry="12.58" class="o"/></g>
<g transform="translate(154.2 381.4) rotate(-45)"><ellipse rx="13.84" ry="7.99" fill="#a6dca1" class="h"/><ellipse rx="13.84" ry="7.99" class="o"/></g>
<g transform="translate(181.2 381.4) rotate(-45)"><ellipse rx="11.58" ry="11.01" fill="#f8f9b2" class="h"/><ellipse rx="11.58" ry="11.01" class="o"/></g>
<g transform="translate(208.2 381.4) rotate(-45)"><ellipse rx="12.63" ry="9.79" fill="#d9eea5" class="h"/><ellipse rx="12.63" ry="9.79" class="o"/></g>
<g transform="translate(235.2 381.4) rotate(-45)"><ellipse rx="11.21" ry="11.39" fill="#feeaa6" class="h"/><ellipse rx="11.21" ry="11.39" class="o"/></g>
<g transform="translate(262.2 381.4) rotate(-45)"><ellipse rx="12.38" ry="10.11" fill="#e2f2a8" class="h"/><ellipse rx="12.38" ry="10.11" class="o"/></g>
<g transform="translate(289.2 381.4) rotate(-45)"><ellipse rx="11.26" ry="11.34" fill="#fff4af" class="h"/><ellipse rx="11.26" ry="11.34" class="o"/></g>
<g transform="translate(316.2 381.4) rotate(-45)"><ellipse rx="12.38" ry="10.11" fill="#e2f2a8" class="h"/><ellipse rx="12.38" ry="10.11" class="o"/></g>
<g transform="translate(343.2 381.4) rotate(-45)"><ellipse rx="12.12" ry="10.42" fill="#e9f4ab" class="h"/><ellipse rx="12.12" ry="10.42" class="o"/></g>
<line x1="358.6" y1="393.0" x2="381.8" y2="369.8" stroke="#000" stroke-width="1.6"/>
<g transform="translate(397.2 381.4) rotate(-45)"><ellipse rx="12.12" ry="10.42" fill="#e9f4ab" class="h"/><ellipse rx="12.12" ry="10.42" class="o"/></g>
<ellipse cx="424.2" cy="381.4" rx="15.88" ry="1.79" transform="rotate(-45 424.2 381.4)" fill="#2c9ce4" stroke="#000" stroke-width="1.85"/>
<ellipse cx="451.2" cy="381.4" rx="15.78" ry="2.53" transform="rotate(-45 451.2 381.4)" fill="#2f9de1" stroke="#000" stroke-width="1.85"/>
<g transform="translate(478.2 381.4) rotate(-45)"><ellipse rx="11.30" ry="11.30" fill="#fffbb5" class="h"/><ellipse rx="11.30" ry="11.30" class="o"/></g>
<g transform="translate(505.2 381.4) rotate(-45)"><ellipse rx="12.27" ry="10.23" fill="#e5f3a9" class="h"/><ellipse rx="12.27" ry="10.23" class="o"/></g>
<g transform="translate(532.2 381.4) rotate(-45)"><ellipse rx="11.21" ry="11.39" fill="#feeaa6" class="h"/><ellipse rx="11.21" ry="11.39" class="o"/></g>
<g transform="translate(559.2 381.4) rotate(-45)"><ellipse rx="11.28" ry="11.32" fill="#fff8b3" class="h"/><ellipse rx="11.28" ry="11.32" class="o"/></g>
<g transform="translate(586.2 381.4) rotate(-45)"><ellipse rx="11.30" ry="11.30" fill="#fffbb5" class="h"/><ellipse rx="11.30" ry="11.30" class="o"/></g>
<g transform="translate(613.2 381.4) rotate(-45)"><ellipse rx="12.38" ry="10.11" fill="#e2f2a8" class="h"/><ellipse rx="12.38" ry="10.11" class="o"/></g>
<g transform="translate(640.2 381.4) rotate(-45)"><ellipse rx="11.24" ry="11.36" fill="#fef0ab" class="h"/><ellipse rx="11.24" ry="11.36" class="o"/></g>
<g transform="translate(667.2 381.4) rotate(-45)"><ellipse rx="11.18" ry="11.41" fill="#fee6a2" class="h"/><ellipse rx="11.18" ry="11.41" class="o"/></g>
<g transform="translate(127.2 408.4) rotate(-45)"><ellipse rx="14.07" ry="7.58" fill="#9bd7a3" class="h"/><ellipse rx="14.07" ry="7.58" class="o"/></g>
<g transform="translate(154.2 408.4) rotate(-45)"><ellipse rx="14.56" ry="6.59" fill="#7cc6ab" class="h"/><ellipse rx="14.56" ry="6.59" class="o"/></g>
<g transform="translate(181.2 408.4) rotate(-45)"><ellipse rx="15.37" ry="4.38" fill="#42a3ca" class="h"/><ellipse rx="15.37" ry="4.38" class="o"/></g>
<g transform="translate(208.2 408.4) rotate(-45)"><ellipse rx="13.84" ry="7.99" fill="#a6dca1" class="h"/><ellipse rx="13.84" ry="7.99" class="o"/></g>
<g transform="translate(235.2 408.4) rotate(-45)"><ellipse rx="13.84" ry="7.99" fill="#a6dca1" class="h"/><ellipse rx="13.84" ry="7.99" class="o"/></g>
<g transform="translate(262.2 408.4) rotate(-45)"><ellipse rx="14.07" ry="7.58" fill="#9bd7a3" class="h"/><ellipse rx="14.07" ry="7.58" class="o"/></g>
<g transform="translate(289.2 408.4) rotate(-45)"><ellipse rx="14.07" ry="7.58" fill="#9bd7a3" class="h"/><ellipse rx="14.07" ry="7.58" class="o"/></g>
<g transform="translate(316.2 408.4) rotate(-45)"><ellipse rx="11.22" ry="11.38" fill="#feeda9" class="h"/><ellipse rx="11.22" ry="11.38" class="o"/></g>
<g transform="translate(343.2 408.4) rotate(-45)"><ellipse rx="12.48" ry="9.98" fill="#def1a7" class="h"/><ellipse rx="12.48" ry="9.98" class="o"/></g>
<g transform="translate(370.2 408.4) rotate(-45)"><ellipse rx="12.12" ry="10.42" fill="#e9f4ab" class="h"/><ellipse rx="12.12" ry="10.42" class="o"/></g>
<line x1="385.6" y1="420.0" x2="408.8" y2="396.8" stroke="#000" stroke-width="1.25"/>
<g transform="translate(424.2 408.4) rotate(-45)"><ellipse rx="12.38" ry="10.11" fill="#e2f2a8" class="h"/><ellipse rx="12.38" ry="10.11" class="o"/></g>
<g transform="translate(451.2 408.4) rotate(-45)"><ellipse rx="13.37" ry="8.75" fill="#bde49d" class="h"/><ellipse rx="13.37" ry="8.75" class="o"/></g>
<g transform="translate(478.2 408.4) rotate(-45)"><ellipse rx="12.63" ry="9.79" fill="#d9eea5" class="h"/><ellipse rx="12.63" ry="9.79" class="o"/></g>
<g transform="translate(505.2 408.4) rotate(-45)"><ellipse rx="12.48" ry="9.98" fill="#def1a7" class="h"/><ellipse rx="12.48" ry="9.98" class="o"/></g>
<g transform="translate(532.2 408.4) rotate(-45)"><ellipse rx="11.85" ry="10.72" fill="#f0f6ae" class="h"/><ellipse rx="11.85" ry="10.72" class="o"/></g>
<g transform="translate(559.2 408.4) rotate(-45)"><ellipse rx="12.17" ry="10.36" fill="#e8f4ab" class="h"/><ellipse rx="12.17" ry="10.36" class="o"/></g>
<g transform="translate(586.2 408.4) rotate(-45)"><ellipse rx="11.24" ry="11.36" fill="#fef0ab" class="h"/><ellipse rx="11.24" ry="11.36" class="o"/></g>
<g transform="translate(613.2 408.4) rotate(-45)"><ellipse rx="12.63" ry="9.79" fill="#d9eea5" class="h"/><ellipse rx="12.63" ry="9.79" class="o"/></g>
<g transform="translate(640.2 408.4) rotate(-45)"><ellipse rx="13.84" ry="7.99" fill="#a6dca1" class="h"/><ellipse rx="13.84" ry="7.99" class="o"/></g>
<g transform="translate(667.2 408.4) rotate(-45)"><ellipse rx="11.41" ry="11.19" fill="#fcfab4" class="h"/><ellipse rx="11.41" ry="11.19" class="o"/></g>
<g transform="translate(127.2 435.4) rotate(-45)"><ellipse rx="9.86" ry="12.58" fill="#fcc983" class="h"/><ellipse rx="9.86" ry="12.58" class="o"/></g>
<g transform="translate(154.2 435.4) rotate(-45)"><ellipse rx="14.29" ry="7.15" fill="#90d3a5" class="h"/><ellipse rx="14.29" ry="7.15" class="o"/></g>
<g transform="translate(181.2 435.4) rotate(-45)"><ellipse rx="12.12" ry="10.42" fill="#e9f4ab" class="h"/><ellipse rx="12.12" ry="10.42" class="o"/></g>
<g transform="translate(208.2 435.4) rotate(-45)"><ellipse rx="12.88" ry="9.45" fill="#d0eba2" class="h"/><ellipse rx="12.88" ry="9.45" class="o"/></g>
<g transform="translate(235.2 435.4) rotate(-45)"><ellipse rx="11.28" ry="11.32" fill="#fff8b3" class="h"/><ellipse rx="11.28" ry="11.32" class="o"/></g>
<g transform="translate(262.2 435.4) rotate(-45)"><ellipse rx="12.38" ry="10.11" fill="#e2f2a8" class="h"/><ellipse rx="12.38" ry="10.11" class="o"/></g>
<g transform="translate(289.2 435.4) rotate(-45)"><ellipse rx="11.24" ry="11.36" fill="#fef0ab" class="h"/><ellipse rx="11.24" ry="11.36" class="o"/></g>
<g transform="translate(316.2 435.4) rotate(-45)"><ellipse rx="12.88" ry="9.45" fill="#d0eba2" class="h"/><ellipse rx="12.88" ry="9.45" class="o"/></g>
<g transform="translate(343.2 435.4) rotate(-45)"><ellipse rx="13.13" ry="9.11" fill="#c6e8a0" class="h"/><ellipse rx="13.13" ry="9.11" class="o"/></g>
<ellipse cx="370.2" cy="435.4" rx="15.88" ry="1.79" transform="rotate(-45 370.2 435.4)" fill="#2c9ce4" stroke="#000" stroke-width="1.85"/>
<g transform="translate(397.2 435.4) rotate(-45)"><ellipse rx="12.38" ry="10.11" fill="#e2f2a8" class="h"/><ellipse rx="12.38" ry="10.11" class="o"/></g>
<line x1="412.6" y1="447.0" x2="435.8" y2="423.8" stroke="#000" stroke-width="1.6"/>
<ellipse cx="451.2" cy="435.4" rx="15.88" ry="1.79" transform="rotate(-45 451.2 435.4)" fill="#2c9ce4" stroke="#000" stroke-width="1.85"/>
<g transform="translate(478.2 435.4) rotate(-45)"><ellipse rx="12.12" ry="10.42" fill="#e9f4ab" class="h"/><ellipse rx="12.12" ry="10.42" class="o"/></g>
<g transform="translate(505.2 435.4) rotate(-45)"><ellipse rx="11.85" ry="10.72" fill="#f0f6ae" class="h"/><ellipse rx="11.85" ry="10.72" class="o"/></g>
<g transform="translate(532.2 435.4) rotate(-45)"><ellipse rx="11.18" ry="11.41" fill="#fee6a2" class="h"/><ellipse rx="11.18" ry="11.41" class="o"/></g>
<g transform="translate(559.2 435.4) rotate(-45)"><ellipse rx="11.21" ry="11.39" fill="#feeaa6" class="h"/><ellipse rx="11.21" ry="11.39" class="o"/></g>
<g transform="translate(586.2 435.4) rotate(-45)"><ellipse rx="10.93" ry="11.66" fill="#fddf9c" class="h"/><ellipse rx="10.93" ry="11.66" class="o"/></g>
<g transform="translate(613.2 435.4) rotate(-45)"><ellipse rx="11.85" ry="10.72" fill="#f0f6ae" class="h"/><ellipse rx="11.85" ry="10.72" class="o"/></g>
<g transform="translate(640.2 435.4) rotate(-45)"><ellipse rx="11.47" ry="11.13" fill="#fbfab3" class="h"/><ellipse rx="11.47" ry="11.13" class="o"/></g>
<g transform="translate(667.2 435.4) rotate(-45)"><ellipse rx="11.21" ry="11.39" fill="#feeaa6" class="h"/><ellipse rx="11.21" ry="11.39" class="o"/></g>
<g transform="translate(127.2 462.4) rotate(-45)"><ellipse rx="11.06" ry="11.54" fill="#fee29f" class="h"/><ellipse rx="11.06" ry="11.54" class="o"/></g>
<g transform="translate(154.2 462.4) rotate(-45)"><ellipse rx="14.73" ry="6.19" fill="#70beae" class="h"/><ellipse rx="14.73" ry="6.19" class="o"/></g>
<g transform="translate(181.2 462.4) rotate(-45)"><ellipse rx="12.88" ry="9.45" fill="#d0eba2" class="h"/><ellipse rx="12.88" ry="9.45" class="o"/></g>
<g transform="translate(208.2 462.4) rotate(-45)"><ellipse rx="13.13" ry="9.11" fill="#c6e8a0" class="h"/><ellipse rx="13.13" ry="9.11" class="o"/></g>
<g transform="translate(235.2 462.4) rotate(-45)"><ellipse rx="11.85" ry="10.72" fill="#f0f6ae" class="h"/><ellipse rx="11.85" ry="10.72" class="o"/></g>
<g transform="translate(262.2 462.4) rotate(-45)"><ellipse rx="12.88" ry="9.45" fill="#d0eba2" class="h"/><ellipse rx="12.88" ry="9.45" class="o"/></g>
<g transform="translate(289.2 462.4) rotate(-45)"><ellipse rx="11.41" ry="11.19" fill="#fcfab4" class="h"/><ellipse rx="11.41" ry="11.19" class="o"/></g>
<g transform="translate(316.2 462.4) rotate(-45)"><ellipse rx="12.48" ry="9.98" fill="#def1a7" class="h"/><ellipse rx="12.48" ry="9.98" class="o"/></g>
<g transform="translate(343.2 462.4) rotate(-45)"><ellipse rx="13.13" ry="9.11" fill="#c6e8a0" class="h"/><ellipse rx="13.13" ry="9.11" class="o"/></g>
<ellipse cx="370.2" cy="462.4" rx="15.78" ry="2.53" transform="rotate(-45 370.2 462.4)" fill="#2f9de1" stroke="#000" stroke-width="1.85"/>
<g transform="translate(397.2 462.4) rotate(-45)"><ellipse rx="13.37" ry="8.75" fill="#bde49d" class="h"/><ellipse rx="13.37" ry="8.75" class="o"/></g>
<ellipse cx="424.2" cy="462.4" rx="15.88" ry="1.79" transform="rotate(-45 424.2 462.4)" fill="#2c9ce4" stroke="#000" stroke-width="1.85"/>
<line x1="439.6" y1="474.0" x2="462.8" y2="450.8" stroke="#000" stroke-width="1.6"/>
<g transform="translate(478.2 462.4) rotate(-45)"><ellipse rx="12.88" ry="9.45" fill="#d0eba2" class="h"/><ellipse rx="12.88" ry="9.45" class="o"/></g>
<g transform="translate(505.2 462.4) rotate(-45)"><ellipse rx="12.27" ry="10.23" fill="#e5f3a9" class="h"/><ellipse rx="12.27" ry="10.23" class="o"/></g>
<g transform="translate(532.2 462.4) rotate(-45)"><ellipse rx="11.18" ry="11.41" fill="#fee6a2" class="h"/><ellipse rx="11.18" ry="11.41" class="o"/></g>
<g transform="translate(559.2 462.4) rotate(-45)"><ellipse rx="11.22" ry="11.38" fill="#feeda9" class="h"/><ellipse rx="11.22" ry="11.38" class="o"/></g>
<g transform="translate(586.2 462.4) rotate(-45)"><ellipse rx="10.93" ry="11.66" fill="#fddf9c" class="h"/><ellipse rx="10.93" ry="11.66" class="o"/></g>
<g transform="translate(613.2 462.4) rotate(-45)"><ellipse rx="12.12" ry="10.42" fill="#e9f4ab" class="h"/><ellipse rx="12.12" ry="10.42" class="o"/></g>
<g transform="translate(640.2 462.4) rotate(-45)"><ellipse rx="12.12" ry="10.42" fill="#e9f4ab" class="h"/><ellipse rx="12.12" ry="10.42" class="o"/></g>
<g transform="translate(667.2 462.4) rotate(-45)"><ellipse rx="11.21" ry="11.39" fill="#feeaa6" class="h"/><ellipse rx="11.21" ry="11.39" class="o"/></g>
<g transform="translate(127.2 489.4) rotate(-45)"><ellipse rx="12.88" ry="9.45" fill="#d0eba2" class="h"/><ellipse rx="12.88" ry="9.45" class="o"/></g>
<g transform="translate(154.2 489.4) rotate(-45)"><ellipse rx="13.61" ry="8.38" fill="#b2e09f" class="h"/><ellipse rx="13.61" ry="8.38" class="o"/></g>
<g transform="translate(181.2 489.4) rotate(-45)"><ellipse rx="12.63" ry="9.79" fill="#d9eea5" class="h"/><ellipse rx="12.63" ry="9.79" class="o"/></g>
<g transform="translate(208.2 489.4) rotate(-45)"><ellipse rx="10.79" ry="11.79" fill="#fddc9a" class="h"/><ellipse rx="10.79" ry="11.79" class="o"/></g>
<g transform="translate(235.2 489.4) rotate(-45)"><ellipse rx="11.28" ry="11.32" fill="#fff8b3" class="h"/><ellipse rx="11.28" ry="11.32" class="o"/></g>
<g transform="translate(262.2 489.4) rotate(-45)"><ellipse rx="11.28" ry="11.32" fill="#fff8b3" class="h"/><ellipse rx="11.28" ry="11.32" class="o"/></g>
<g transform="translate(289.2 489.4) rotate(-45)"><ellipse rx="12.38" ry="10.11" fill="#e2f2a8" class="h"/><ellipse rx="12.38" ry="10.11" class="o"/></g>
<g transform="translate(316.2 489.4) rotate(-45)"><ellipse rx="12.63" ry="9.79" fill="#d9eea5" class="h"/><ellipse rx="12.63" ry="9.79" class="o"/></g>
<g transform="translate(343.2 489.4) rotate(-45)"><ellipse rx="12.38" ry="10.11" fill="#e2f2a8" class="h"/><ellipse rx="12.38" ry="10.11" class="o"/></g>
<g transform="translate(370.2 489.4) rotate(-45)"><ellipse rx="11.30" ry="11.30" fill="#fffbb5" class="h"/><ellipse rx="11.30" ry="11.30" class="o"/></g>
<g transform="translate(397.2 489.4) rotate(-45)"><ellipse rx="12.63" ry="9.79" fill="#d9eea5" class="h"/><ellipse rx="12.63" ry="9.79" class="o"/></g>
<g transform="translate(424.2 489.4) rotate(-45)"><ellipse rx="12.12" ry="10.42" fill="#e9f4ab" class="h"/><ellipse rx="12.12" ry="10.42" class="o"/></g>
<g transform="translate(451.2 489.4) rotate(-45)"><ellipse rx="12.88" ry="9.45" fill="#d0eba2" class="h"/><ellipse rx="12.88" ry="9.45" class="o"/></g>
<line x1="466.6" y1="501.0" x2="489.8" y2="477.8" stroke="#000" stroke-width="1.6"/>
<ellipse cx="505.2" cy="489.4" rx="15.87" ry="1.89" transform="rotate(-45 505.2 489.4)" fill="#2d9de3" stroke="#000" stroke-width="1.85"/>
<g transform="translate(532.2 489.4) rotate(-45)"><ellipse rx="12.01" ry="10.54" fill="#ecf5ad" class="h"/><ellipse rx="12.01" ry="10.54" class="o"/></g>
<g transform="translate(559.2 489.4) rotate(-45)"><ellipse rx="12.48" ry="9.98" fill="#def1a7" class="h"/><ellipse rx="12.48" ry="9.98" class="o"/></g>
<g transform="translate(586.2 489.4) rotate(-45)"><ellipse rx="13.84" ry="7.99" fill="#a6dca1" class="h"/><ellipse rx="13.84" ry="7.99" class="o"/></g>
<g transform="translate(613.2 489.4) rotate(-45)"><ellipse rx="15.16" ry="5.05" fill="#4fa8b8" class="h"/><ellipse rx="15.16" ry="5.05" class="o"/></g>
<g transform="translate(640.2 489.4) rotate(-45)"><ellipse rx="14.82" ry="5.98" fill="#69b9b0" class="h"/><ellipse rx="14.82" ry="5.98" class="o"/></g>
<g transform="translate(667.2 489.4) rotate(-45)"><ellipse rx="11.74" ry="10.84" fill="#f3f7b0" class="h"/><ellipse rx="11.74" ry="10.84" class="o"/></g>
<g transform="translate(127.2 516.4) rotate(-45)"><ellipse rx="12.63" ry="9.79" fill="#d9eea5" class="h"/><ellipse rx="12.63" ry="9.79" class="o"/></g>
<g transform="translate(154.2 516.4) rotate(-45)"><ellipse rx="11.41" ry="11.19" fill="#fcfab4" class="h"/><ellipse rx="11.41" ry="11.19" class="o"/></g>
<g transform="translate(181.2 516.4) rotate(-45)"><ellipse rx="12.38" ry="10.11" fill="#e2f2a8" class="h"/><ellipse rx="12.38" ry="10.11" class="o"/></g>
<g transform="translate(208.2 516.4) rotate(-45)"><ellipse rx="12.12" ry="10.42" fill="#e9f4ab" class="h"/><ellipse rx="12.12" ry="10.42" class="o"/></g>
<g transform="translate(235.2 516.4) rotate(-45)"><ellipse rx="11.41" ry="11.19" fill="#fcfab4" class="h"/><ellipse rx="11.41" ry="11.19" class="o"/></g>
<g transform="translate(262.2 516.4) rotate(-45)"><ellipse rx="11.58" ry="11.01" fill="#f8f9b2" class="h"/><ellipse rx="11.58" ry="11.01" class="o"/></g>
<g transform="translate(289.2 516.4) rotate(-45)"><ellipse rx="11.58" ry="11.01" fill="#f8f9b2" class="h"/><ellipse rx="11.58" ry="11.01" class="o"/></g>
<g transform="translate(316.2 516.4) rotate(-45)"><ellipse rx="11.41" ry="11.19" fill="#fcfab4" class="h"/><ellipse rx="11.41" ry="11.19" class="o"/></g>
<g transform="translate(343.2 516.4) rotate(-45)"><ellipse rx="11.85" ry="10.72" fill="#f0f6ae" class="h"/><ellipse rx="11.85" ry="10.72" class="o"/></g>
<g transform="translate(370.2 516.4) rotate(-45)"><ellipse rx="12.27" ry="10.23" fill="#e5f3a9" class="h"/><ellipse rx="12.27" ry="10.23" class="o"/></g>
<g transform="translate(397.2 516.4) rotate(-45)"><ellipse rx="12.48" ry="9.98" fill="#def1a7" class="h"/><ellipse rx="12.48" ry="9.98" class="o"/></g>
<g transform="translate(424.2 516.4) rotate(-45)"><ellipse rx="11.85" ry="10.72" fill="#f0f6ae" class="h"/><ellipse rx="11.85" ry="10.72" class="o"/></g>
<g transform="translate(451.2 516.4) rotate(-45)"><ellipse rx="12.27" ry="10.23" fill="#e5f3a9" class="h"/><ellipse rx="12.27" ry="10.23" class="o"/></g>
<ellipse cx="478.2" cy="516.4" rx="15.87" ry="1.89" transform="rotate(-45 478.2 516.4)" fill="#2d9de3" stroke="#000" stroke-width="1.85"/>
<line x1="493.6" y1="528.0" x2="516.8" y2="504.8" stroke="#000" stroke-width="1.25"/>
<g transform="translate(532.2 516.4) rotate(-45)"><ellipse rx="10.58" ry="11.98" fill="#fdd896" class="h"/><ellipse rx="10.58" ry="11.98" class="o"/></g>
<g transform="translate(559.2 516.4) rotate(-45)"><ellipse rx="10.86" ry="11.73" fill="#fdde9b" class="h"/><ellipse rx="10.86" ry="11.73" class="o"/></g>
<g transform="translate(586.2 516.4) rotate(-45)"><ellipse rx="14.29" ry="7.15" fill="#90d3a5" class="h"/><ellipse rx="14.29" ry="7.15" class="o"/></g>
<ellipse cx="613.2" cy="516.4" rx="15.85" ry="2.02" transform="rotate(-45 613.2 516.4)" fill="#2d9de3" stroke="#000" stroke-width="1.85"/>
<g transform="translate(640.2 516.4) rotate(-45)"><ellipse rx="12.88" ry="9.45" fill="#d0eba2" class="h"/><ellipse rx="12.88" ry="9.45" class="o"/></g>
<g transform="translate(667.2 516.4) rotate(-45)"><ellipse rx="11.47" ry="11.13" fill="#fbfab3" class="h"/><ellipse rx="11.47" ry="11.13" class="o"/></g>
<g transform="translate(127.2 543.4) rotate(-45)"><ellipse rx="11.96" ry="10.60" fill="#eef6ad" class="h"/><ellipse rx="11.96" ry="10.60" class="o"/></g>
<g transform="translate(154.2 543.4) rotate(-45)"><ellipse rx="11.24" ry="11.36" fill="#fef0ab" class="h"/><ellipse rx="11.24" ry="11.36" class="o"/></g>
<g transform="translate(181.2 543.4) rotate(-45)"><ellipse rx="12.88" ry="9.45" fill="#d0eba2" class="h"/><ellipse rx="12.88" ry="9.45" class="o"/></g>
<g transform="translate(208.2 543.4) rotate(-45)"><ellipse rx="11.96" ry="10.60" fill="#eef6ad" class="h"/><ellipse rx="11.96" ry="10.60" class="o"/></g>
<g transform="translate(235.2 543.4) rotate(-45)"><ellipse rx="12.38" ry="10.11" fill="#e2f2a8" class="h"/><ellipse rx="12.38" ry="10.11" class="o"/></g>
<g transform="translate(262.2 543.4) rotate(-45)"><ellipse rx="11.58" ry="11.01" fill="#f8f9b2" class="h"/><ellipse rx="11.58" ry="11.01" class="o"/></g>
<g transform="translate(289.2 543.4) rotate(-45)"><ellipse rx="11.18" ry="11.41" fill="#fee6a2" class="h"/><ellipse rx="11.18" ry="11.41" class="o"/></g>
<g transform="translate(316.2 543.4) rotate(-45)"><ellipse rx="11.24" ry="11.36" fill="#fef0ab" class="h"/><ellipse rx="11.24" ry="11.36" class="o"/></g>
<g transform="translate(343.2 543.4) rotate(-45)"><ellipse rx="12.12" ry="10.42" fill="#e9f4ab" class="h"/><ellipse rx="12.12" ry="10.42" class="o"/></g>
<g transform="translate(370.2 543.4) rotate(-45)"><ellipse rx="11.21" ry="11.39" fill="#feeaa6" class="h"/><ellipse rx="11.21" ry="11.39" class="o"/></g>
<g transform="translate(397.2 543.4) rotate(-45)"><ellipse rx="11.85" ry="10.72" fill="#f0f6ae" class="h"/><ellipse rx="11.85" ry="10.72" class="o"/></g>
<g transform="translate(424.2 543.4) rotate(-45)"><ellipse rx="11.18" ry="11.41" fill="#fee6a2" class="h"/><ellipse rx="11.18" ry="11.41" class="o"/></g>
<g transform="translate(451.2 543.4) rotate(-45)"><ellipse rx="11.18" ry="11.41" fill="#fee6a2" class="h"/><ellipse rx="11.18" ry="11.41" class="o"/></g>
<g transform="translate(478.2 543.4) rotate(-45)"><ellipse rx="12.01" ry="10.54" fill="#ecf5ad" class="h"/><ellipse rx="12.01" ry="10.54" class="o"/></g>
<g transform="translate(505.2 543.4) rotate(-45)"><ellipse rx="10.58" ry="11.98" fill="#fdd896" class="h"/><ellipse rx="10.58" ry="11.98" class="o"/></g>
<line x1="520.6" y1="555.0" x2="543.8" y2="531.8" stroke="#000" stroke-width="1.6"/>
<ellipse cx="559.2" cy="543.4" rx="15.86" ry="1.96" transform="rotate(-45 559.2 543.4)" fill="#2d9de3" stroke="#000" stroke-width="1.85"/>
<g transform="translate(586.2 543.4) rotate(-45)"><ellipse rx="12.12" ry="10.42" fill="#e9f4ab" class="h"/><ellipse rx="12.12" ry="10.42" class="o"/></g>
<g transform="translate(613.2 543.4) rotate(-45)"><ellipse rx="11.18" ry="11.41" fill="#fee6a2" class="h"/><ellipse rx="11.18" ry="11.41" class="o"/></g>
<g transform="translate(640.2 543.4) rotate(-45)"><ellipse rx="11.18" ry="11.41" fill="#fee6a2" class="h"/><ellipse rx="11.18" ry="11.41" class="o"/></g>
<g transform="translate(667.2 543.4) rotate(-45)"><ellipse rx="12.38" ry="10.11" fill="#e2f2a8" class="h"/><ellipse rx="12.38" ry="10.11" class="o"/></g>
<g transform="translate(127.2 570.4) rotate(-45)"><ellipse rx="12.12" ry="10.42" fill="#e9f4ab" class="h"/><ellipse rx="12.12" ry="10.42" class="o"/></g>
<g transform="translate(154.2 570.4) rotate(-45)"><ellipse rx="11.30" ry="11.30" fill="#fffbb5" class="h"/><ellipse rx="11.30" ry="11.30" class="o"/></g>
<g transform="translate(181.2 570.4) rotate(-45)"><ellipse rx="12.88" ry="9.45" fill="#d0eba2" class="h"/><ellipse rx="12.88" ry="9.45" class="o"/></g>
<g transform="translate(208.2 570.4) rotate(-45)"><ellipse rx="12.12" ry="10.42" fill="#e9f4ab" class="h"/><ellipse rx="12.12" ry="10.42" class="o"/></g>
<g transform="translate(235.2 570.4) rotate(-45)"><ellipse rx="12.38" ry="10.11" fill="#e2f2a8" class="h"/><ellipse rx="12.38" ry="10.11" class="o"/></g>
<g transform="translate(262.2 570.4) rotate(-45)"><ellipse rx="11.85" ry="10.72" fill="#f0f6ae" class="h"/><ellipse rx="11.85" ry="10.72" class="o"/></g>
<g transform="translate(289.2 570.4) rotate(-45)"><ellipse rx="11.22" ry="11.38" fill="#feeda9" class="h"/><ellipse rx="11.22" ry="11.38" class="o"/></g>
<g transform="translate(316.2 570.4) rotate(-45)"><ellipse rx="11.22" ry="11.38" fill="#feeda9" class="h"/><ellipse rx="11.22" ry="11.38" class="o"/></g>
<g transform="translate(343.2 570.4) rotate(-45)"><ellipse rx="11.96" ry="10.60" fill="#eef6ad" class="h"/><ellipse rx="11.96" ry="10.60" class="o"/></g>
<g transform="translate(370.2 570.4) rotate(-45)"><ellipse rx="11.28" ry="11.32" fill="#fff8b3" class="h"/><ellipse rx="11.28" ry="11.32" class="o"/></g>
<g transform="translate(397.2 570.4) rotate(-45)"><ellipse rx="12.17" ry="10.36" fill="#e8f4ab" class="h"/><ellipse rx="12.17" ry="10.36" class="o"/></g>
<g transform="translate(424.2 570.4) rotate(-45)"><ellipse rx="11.21" ry="11.39" fill="#feeaa6" class="h"/><ellipse rx="11.21" ry="11.39" class="o"/></g>
<g transform="translate(451.2 570.4) rotate(-45)"><ellipse rx="11.22" ry="11.38" fill="#feeda9" class="h"/><ellipse rx="11.22" ry="11.38" class="o"/></g>
<g transform="translate(478.2 570.4) rotate(-45)"><ellipse rx="12.48" ry="9.98" fill="#def1a7" class="h"/><ellipse rx="12.48" ry="9.98" class="o"/></g>
<g transform="translate(505.2 570.4) rotate(-45)"><ellipse rx="10.86" ry="11.73" fill="#fdde9b" class="h"/><ellipse rx="10.86" ry="11.73" class="o"/></g>
<ellipse cx="532.2" cy="570.4" rx="15.86" ry="1.96" transform="rotate(-45 532.2 570.4)" fill="#2d9de3" stroke="#000" stroke-width="1.85"/>
<line x1="547.6" y1="582.0" x2="570.8" y2="558.8" stroke="#000" stroke-width="1.6"/>
<g transform="translate(586.2 570.4) rotate(-45)"><ellipse rx="12.12" ry="10.42" fill="#e9f4ab" class="h"/><ellipse rx="12.12" ry="10.42" class="o"/></g>
<g transform="translate(613.2 570.4) rotate(-45)"><ellipse rx="11.21" ry="11.39" fill="#feeaa6" class="h"/><ellipse rx="11.21" ry="11.39" class="o"/></g>
<g transform="translate(640.2 570.4) rotate(-45)"><ellipse rx="11.18" ry="11.41" fill="#fee6a2" class="h"/><ellipse rx="11.18" ry="11.41" class="o"/></g>
<g transform="translate(667.2 570.4) rotate(-45)"><ellipse rx="12.48" ry="9.98" fill="#def1a7" class="h"/><ellipse rx="12.48" ry="9.98" class="o"/></g>
<g transform="translate(127.2 597.4) rotate(-45)"><ellipse rx="12.88" ry="9.45" fill="#d0eba2" class="h"/><ellipse rx="12.88" ry="9.45" class="o"/></g>
<g transform="translate(154.2 597.4) rotate(-45)"><ellipse rx="9.86" ry="12.58" fill="#fcc983" class="h"/><ellipse rx="9.86" ry="12.58" class="o"/></g>
<g transform="translate(181.2 597.4) rotate(-45)"><ellipse rx="11.24" ry="11.36" fill="#fef0ab" class="h"/><ellipse rx="11.24" ry="11.36" class="o"/></g>
<g transform="translate(208.2 597.4) rotate(-45)"><ellipse rx="10.22" ry="12.28" fill="#fdd08c" class="h"/><ellipse rx="10.22" ry="12.28" class="o"/></g>
<g transform="translate(235.2 597.4) rotate(-45)"><ellipse rx="11.41" ry="11.19" fill="#fcfab4" class="h"/><ellipse rx="11.41" ry="11.19" class="o"/></g>
<g transform="translate(262.2 597.4) rotate(-45)"><ellipse rx="11.85" ry="10.72" fill="#f0f6ae" class="h"/><ellipse rx="11.85" ry="10.72" class="o"/></g>
<g transform="translate(289.2 597.4) rotate(-45)"><ellipse rx="11.24" ry="11.36" fill="#fef0ab" class="h"/><ellipse rx="11.24" ry="11.36" class="o"/></g>
<g transform="translate(316.2 597.4) rotate(-45)"><ellipse rx="12.22" ry="10.29" fill="#e6f3aa" class="h"/><ellipse rx="12.22" ry="10.29" class="o"/></g>
<g transform="translate(343.2 597.4) rotate(-45)"><ellipse rx="11.47" ry="11.13" fill="#fbfab3" class="h"/><ellipse rx="11.47" ry="11.13" class="o"/></g>
<g transform="translate(370.2 597.4) rotate(-45)"><ellipse rx="11.30" ry="11.30" fill="#fffbb5" class="h"/><ellipse rx="11.30" ry="11.30" class="o"/></g>
<g transform="translate(397.2 597.4) rotate(-45)"><ellipse rx="11.24" ry="11.36" fill="#fef0ab" class="h"/><ellipse rx="11.24" ry="11.36" class="o"/></g>
<g transform="translate(424.2 597.4) rotate(-45)"><ellipse rx="10.93" ry="11.66" fill="#fddf9c" class="h"/><ellipse rx="10.93" ry="11.66" class="o"/></g>
<g transform="translate(451.2 597.4) rotate(-45)"><ellipse rx="10.93" ry="11.66" fill="#fddf9c" class="h"/><ellipse rx="10.93" ry="11.66" class="o"/></g>
<g transform="translate(478.2 597.4) rotate(-45)"><ellipse rx="13.84" ry="7.99" fill="#a6dca1" class="h"/><ellipse rx="13.84" ry="7.99" class="o"/></g>
<g transform="translate(505.2 597.4) rotate(-45)"><ellipse rx="14.29" ry="7.15" fill="#90d3a5" class="h"/><ellipse rx="14.29" ry="7.15" class="o"/></g>
<g transform="translate(532.2 597.4) rotate(-45)"><ellipse rx="12.12" ry="10.42" fill="#e9f4ab" class="h"/><ellipse rx="12.12" ry="10.42" class="o"/></g>
<g transform="translate(559.2 597.4) rotate(-45)"><ellipse rx="12.12" ry="10.42" fill="#e9f4ab" class="h"/><ellipse rx="12.12" ry="10.42" class="o"/></g>
<line x1="574.6" y1="609.0" x2="597.8" y2="585.8" stroke="#000" stroke-width="1.6"/>
<g transform="translate(613.2 597.4) rotate(-45)"><ellipse rx="14.73" ry="6.19" fill="#70beae" class="h"/><ellipse rx="14.73" ry="6.19" class="o"/></g>
<g transform="translate(640.2 597.4) rotate(-45)"><ellipse rx="11.69" ry="10.90" fill="#f5f8b0" class="h"/><ellipse rx="11.69" ry="10.90" class="o"/></g>
<g transform="translate(667.2 597.4) rotate(-45)"><ellipse rx="12.63" ry="9.79" fill="#d9eea5" class="h"/><ellipse rx="12.63" ry="9.79" class="o"/></g>
<g transform="translate(127.2 624.4) rotate(-45)"><ellipse rx="12.78" ry="9.59" fill="#d3eca4" class="h"/><ellipse rx="12.78" ry="9.59" class="o"/></g>
<g transform="translate(154.2 624.4) rotate(-45)"><ellipse rx="11.41" ry="11.19" fill="#fcfab4" class="h"/><ellipse rx="11.41" ry="11.19" class="o"/></g>
<g transform="translate(181.2 624.4) rotate(-45)"><ellipse rx="12.12" ry="10.42" fill="#e9f4ab" class="h"/><ellipse rx="12.12" ry="10.42" class="o"/></g>
<g transform="translate(208.2 624.4) rotate(-45)"><ellipse rx="11.47" ry="11.13" fill="#fbfab3" class="h"/><ellipse rx="11.47" ry="11.13" class="o"/></g>
<g transform="translate(235.2 624.4) rotate(-45)"><ellipse rx="11.96" ry="10.60" fill="#eef6ad" class="h"/><ellipse rx="11.96" ry="10.60" class="o"/></g>
<g transform="translate(262.2 624.4) rotate(-45)"><ellipse rx="11.96" ry="10.60" fill="#eef6ad" class="h"/><ellipse rx="11.96" ry="10.60" class="o"/></g>
<g transform="translate(289.2 624.4) rotate(-45)"><ellipse rx="11.85" ry="10.72" fill="#f0f6ae" class="h"/><ellipse rx="11.85" ry="10.72" class="o"/></g>
<g transform="translate(316.2 624.4) rotate(-45)"><ellipse rx="11.85" ry="10.72" fill="#f0f6ae" class="h"/><ellipse rx="11.85" ry="10.72" class="o"/></g>
<g transform="translate(343.2 624.4) rotate(-45)"><ellipse rx="11.74" ry="10.84" fill="#f3f7b0" class="h"/><ellipse rx="11.74" ry="10.84" class="o"/></g>
<g transform="translate(370.2 624.4) rotate(-45)"><ellipse rx="12.38" ry="10.11" fill="#e2f2a8" class="h"/><ellipse rx="12.38" ry="10.11" class="o"/></g>
<g transform="translate(397.2 624.4) rotate(-45)"><ellipse rx="12.63" ry="9.79" fill="#d9eea5" class="h"/><ellipse rx="12.63" ry="9.79" class="o"/></g>
<g transform="translate(424.2 624.4) rotate(-45)"><ellipse rx="11.85" ry="10.72" fill="#f0f6ae" class="h"/><ellipse rx="11.85" ry="10.72" class="o"/></g>
<g transform="translate(451.2 624.4) rotate(-45)"><ellipse rx="12.12" ry="10.42" fill="#e9f4ab" class="h"/><ellipse rx="12.12" ry="10.42" class="o"/></g>
<g transform="translate(478.2 624.4) rotate(-45)"><ellipse rx="15.16" ry="5.05" fill="#4fa8b8" class="h"/><ellipse rx="15.16" ry="5.05" class="o"/></g>
<ellipse cx="505.2" cy="624.4" rx="15.85" ry="2.02" transform="rotate(-45 505.2 624.4)" fill="#2d9de3" stroke="#000" stroke-width="1.85"/>
<g transform="translate(532.2 624.4) rotate(-45)"><ellipse rx="11.18" ry="11.41" fill="#fee6a2" class="h"/><ellipse rx="11.18" ry="11.41" class="o"/></g>
<g transform="translate(559.2 624.4) rotate(-45)"><ellipse rx="11.21" ry="11.39" fill="#feeaa6" class="h"/><ellipse rx="11.21" ry="11.39" class="o"/></g>
<g transform="translate(586.2 624.4) rotate(-45)"><ellipse rx="14.73" ry="6.19" fill="#70beae" class="h"/><ellipse rx="14.73" ry="6.19" class="o"/></g>
<line x1="601.6" y1="636.0" x2="624.8" y2="612.8" stroke="#000" stroke-width="1.6"/>
<g transform="translate(640.2 624.4) rotate(-45)"><ellipse rx="12.88" ry="9.45" fill="#d0eba2" class="h"/><ellipse rx="12.88" ry="9.45" class="o"/></g>
<g transform="translate(667.2 624.4) rotate(-45)"><ellipse rx="12.12" ry="10.42" fill="#e9f4ab" class="h"/><ellipse rx="12.12" ry="10.42" class="o"/></g>
<g transform="translate(127.2 651.4) rotate(-45)"><ellipse rx="13.84" ry="7.99" fill="#a6dca1" class="h"/><ellipse rx="13.84" ry="7.99" class="o"/></g>
<g transform="translate(154.2 651.4) rotate(-45)"><ellipse rx="12.88" ry="9.45" fill="#d0eba2" class="h"/><ellipse rx="12.88" ry="9.45" class="o"/></g>
<g transform="translate(181.2 651.4) rotate(-45)"><ellipse rx="13.84" ry="7.99" fill="#a6dca1" class="h"/><ellipse rx="13.84" ry="7.99" class="o"/></g>
<g transform="translate(208.2 651.4) rotate(-45)"><ellipse rx="12.38" ry="10.11" fill="#e2f2a8" class="h"/><ellipse rx="12.38" ry="10.11" class="o"/></g>
<g transform="translate(235.2 651.4) rotate(-45)"><ellipse rx="12.88" ry="9.45" fill="#d0eba2" class="h"/><ellipse rx="12.88" ry="9.45" class="o"/></g>
<g transform="translate(262.2 651.4) rotate(-45)"><ellipse rx="11.74" ry="10.84" fill="#f3f7b0" class="h"/><ellipse rx="11.74" ry="10.84" class="o"/></g>
<g transform="translate(289.2 651.4) rotate(-45)"><ellipse rx="11.96" ry="10.60" fill="#eef6ad" class="h"/><ellipse rx="11.96" ry="10.60" class="o"/></g>
<g transform="translate(316.2 651.4) rotate(-45)"><ellipse rx="11.47" ry="11.13" fill="#fbfab3" class="h"/><ellipse rx="11.47" ry="11.13" class="o"/></g>
<g transform="translate(343.2 651.4) rotate(-45)"><ellipse rx="12.12" ry="10.42" fill="#e9f4ab" class="h"/><ellipse rx="12.12" ry="10.42" class="o"/></g>
<g transform="translate(370.2 651.4) rotate(-45)"><ellipse rx="11.24" ry="11.36" fill="#fef0ab" class="h"/><ellipse rx="11.24" ry="11.36" class="o"/></g>
<g transform="translate(397.2 651.4) rotate(-45)"><ellipse rx="13.84" ry="7.99" fill="#a6dca1" class="h"/><ellipse rx="13.84" ry="7.99" class="o"/></g>
<g transform="translate(424.2 651.4) rotate(-45)"><ellipse rx="11.47" ry="11.13" fill="#fbfab3" class="h"/><ellipse rx="11.47" ry="11.13" class="o"/></g>
<g transform="translate(451.2 651.4) rotate(-45)"><ellipse rx="12.12" ry="10.42" fill="#e9f4ab" class="h"/><ellipse rx="12.12" ry="10.42" class="o"/></g>
<g transform="translate(478.2 651.4) rotate(-45)"><ellipse rx="14.82" ry="5.98" fill="#69b9b0" class="h"/><ellipse rx="14.82" ry="5.98" class="o"/></g>
<g transform="translate(505.2 651.4) rotate(-45)"><ellipse rx="12.88" ry="9.45" fill="#d0eba2" class="h"/><ellipse rx="12.88" ry="9.45" class="o"/></g>
<g transform="translate(532.2 651.4) rotate(-45)"><ellipse rx="11.18" ry="11.41" fill="#fee6a2" class="h"/><ellipse rx="11.18" ry="11.41" class="o"/></g>
<g transform="translate(559.2 651.4) rotate(-45)"><ellipse rx="11.18" ry="11.41" fill="#fee6a2" class="h"/><ellipse rx="11.18" ry="11.41" class="o"/></g>
<g transform="translate(586.2 651.4) rotate(-45)"><ellipse rx="11.69" ry="10.90" fill="#f5f8b0" class="h"/><ellipse rx="11.69" ry="10.90" class="o"/></g>
<g transform="translate(613.2 651.4) rotate(-45)"><ellipse rx="12.88" ry="9.45" fill="#d0eba2" class="h"/><ellipse rx="12.88" ry="9.45" class="o"/></g>
<line x1="628.6" y1="663.0" x2="651.8" y2="639.8" stroke="#000" stroke-width="1.6"/>
<g transform="translate(667.2 651.4) rotate(-45)"><ellipse rx="10.58" ry="11.98" fill="#fdd896" class="h"/><ellipse rx="10.58" ry="11.98" class="o"/></g>
<g transform="translate(127.2 678.4) rotate(-45)"><ellipse rx="11.85" ry="10.72" fill="#f0f6ae" class="h"/><ellipse rx="11.85" ry="10.72" class="o"/></g>
<g transform="translate(154.2 678.4) rotate(-45)"><ellipse rx="11.41" ry="11.19" fill="#fcfab4" class="h"/><ellipse rx="11.41" ry="11.19" class="o"/></g>
<g transform="translate(181.2 678.4) rotate(-45)"><ellipse rx="11.41" ry="11.19" fill="#fcfab4" class="h"/><ellipse rx="11.41" ry="11.19" class="o"/></g>
<g transform="translate(208.2 678.4) rotate(-45)"><ellipse rx="10.22" ry="12.28" fill="#fdd08c" class="h"/><ellipse rx="10.22" ry="12.28" class="o"/></g>
<g transform="translate(235.2 678.4) rotate(-45)"><ellipse rx="12.27" ry="10.23" fill="#e5f3a9" class="h"/><ellipse rx="12.27" ry="10.23" class="o"/></g>
<g transform="translate(262.2 678.4) rotate(-45)"><ellipse rx="11.22" ry="11.38" fill="#feeda9" class="h"/><ellipse rx="11.22" ry="11.38" class="o"/></g>
<g transform="translate(289.2 678.4) rotate(-45)"><ellipse rx="11.18" ry="11.41" fill="#fee6a2" class="h"/><ellipse rx="11.18" ry="11.41" class="o"/></g>
<g transform="translate(316.2 678.4) rotate(-45)"><ellipse rx="11.74" ry="10.84" fill="#f3f7b0" class="h"/><ellipse rx="11.74" ry="10.84" class="o"/></g>
<g transform="translate(343.2 678.4) rotate(-45)"><ellipse rx="11.41" ry="11.19" fill="#fcfab4" class="h"/><ellipse rx="11.41" ry="11.19" class="o"/></g>
<g transform="translate(370.2 678.4) rotate(-45)"><ellipse rx="11.18" ry="11.41" fill="#fee6a2" class="h"/><ellipse rx="11.18" ry="11.41" class="o"/></g>
<g transform="translate(397.2 678.4) rotate(-45)"><ellipse rx="11.41" ry="11.19" fill="#fcfab4" class="h"/><ellipse rx="11.41" ry="11.19" class="o"/></g>
<g transform="translate(424.2 678.4) rotate(-45)"><ellipse rx="11.21" ry="11.39" fill="#feeaa6" class="h"/><ellipse rx="11.21" ry="11.39" class="o"/></g>
<g transform="translate(451.2 678.4) rotate(-45)"><ellipse rx="11.21" ry="11.39" fill="#feeaa6" class="h"/><ellipse rx="11.21" ry="11.39" class="o"/></g>
<g transform="translate(478.2 678.4) rotate(-45)"><ellipse rx="11.74" ry="10.84" fill="#f3f7b0" class="h"/><ellipse rx="11.74" ry="10.84" class="o"/></g>
<g transform="translate(505.2 678.4) rotate(-45)"><ellipse rx="11.47" ry="11.13" fill="#fbfab3" class="h"/><ellipse rx="11.47" ry="11.13" class="o"/></g>
<g transform="translate(532.2 678.4) rotate(-45)"><ellipse rx="12.38" ry="10.11" fill="#e2f2a8" class="h"/><ellipse rx="12.38" ry="10.11" class="o"/></g>
<g transform="translate(559.2 678.4) rotate(-45)"><ellipse rx="12.48" ry="9.98" fill="#def1a7" class="h"/><ellipse rx="12.48" ry="9.98" class="o"/></g>
<g transform="translate(586.2 678.4) rotate(-45)"><ellipse rx="12.63" ry="9.79" fill="#d9eea5" class="h"/><ellipse rx="12.63" ry="9.79" class="o"/></g>
<g transform="translate(613.2 678.4) rotate(-45)"><ellipse rx="12.12" ry="10.42" fill="#e9f4ab" class="h"/><ellipse rx="12.12" ry="10.42" class="o"/></g>
<g transform="translate(640.2 678.4) rotate(-45)"><ellipse rx="10.58" ry="11.98" fill="#fdd896" class="h"/><ellipse rx="10.58" ry="11.98" class="o"/></g>
<line x1="655.6" y1="690.0" x2="678.8" y2="666.8" stroke="#000" stroke-width="1.6"/>
<line x1="120.6" y1="709.0" x2="146.6" y2="735.0" stroke="#111" stroke-width="1.6"/>
<ellipse cx="164.4" cy="722.0" rx="5.81" ry="17.44" transform="rotate(-45 164.4 722.0)" fill="#e8503a" stroke="#3a3a3a" stroke-width="0.9"/>
<ellipse cx="195.3" cy="722.0" rx="8.22" ry="16.44" transform="rotate(-45 195.3 722.0)" fill="#f58b55" stroke="#3a3a3a" stroke-width="0.9"/>
<ellipse cx="226.1" cy="722.0" rx="10.07" ry="15.38" transform="rotate(-45 226.1 722.0)" fill="#fbb266" stroke="#3a3a3a" stroke-width="0.9"/>
<ellipse cx="257.0" cy="722.0" rx="11.63" ry="14.24" transform="rotate(-45 257.0 722.0)" fill="#fdd896" stroke="#3a3a3a" stroke-width="0.9"/>
<ellipse cx="287.8" cy="722.0" rx="13.00" ry="13.00" transform="rotate(-45 287.8 722.0)" fill="#fffbb5" stroke="#3a3a3a" stroke-width="0.9"/>
<ellipse cx="318.6" cy="722.0" rx="14.24" ry="11.63" transform="rotate(-45 318.6 722.0)" fill="#e2f2a8" stroke="#3a3a3a" stroke-width="0.9"/>
<ellipse cx="349.5" cy="722.0" rx="15.38" ry="10.07" transform="rotate(-45 349.5 722.0)" fill="#bde49d" stroke="#3a3a3a" stroke-width="0.9"/>
<ellipse cx="380.3" cy="722.0" rx="16.44" ry="8.22" transform="rotate(-45 380.3 722.0)" fill="#90d3a5" stroke="#3a3a3a" stroke-width="0.9"/>
<ellipse cx="411.2" cy="722.0" rx="17.44" ry="5.81" transform="rotate(-45 411.2 722.0)" fill="#4fa8b8" stroke="#3a3a3a" stroke-width="0.9"/>
<line x1="429.0" y1="735.0" x2="455.0" y2="709.0" stroke="#111" stroke-width="1.6"/>
</g>
<g>
<text x="63.5" y="144.4" font-family="Liberation Serif, serif" font-size="20" textLength="34.1" lengthAdjust="spacingAndGlyphs">NaP</text>
<text x="63.5" y="173.3" font-family="Liberation Serif, serif" font-size="20" textLength="26.1" lengthAdjust="spacingAndGlyphs">Flu</text>
<text x="64.0" y="198.7" font-family="Liberation Serif, serif" font-size="20" textLength="29.0" lengthAdjust="spacingAndGlyphs">Phe</text>
<text x="65.0" y="223.5" font-family="Liberation Serif, serif" font-size="20" textLength="29.2" lengthAdjust="spacingAndGlyphs">Ant</text>
<text x="65.0" y="252.0" font-family="Liberation Serif, serif" font-size="20" textLength="37.3" lengthAdjust="spacingAndGlyphs">FLN</text>
<text x="64.0" y="277.6" font-family="Liberation Serif, serif" font-size="20" textLength="27.3" lengthAdjust="spacingAndGlyphs">Pyr</text>
<text x="62.8" y="303.7" font-family="Liberation Serif, serif" font-size="20" textLength="33.2" lengthAdjust="spacingAndGlyphs">Chy</text>
<text x="63.5" y="332.6" font-family="Liberation Serif, serif" font-size="20" textLength="32.5" lengthAdjust="spacingAndGlyphs">BaP</text>
<text x="66.4" y="359.4" font-family="Liberation Serif, serif" font-size="20" textLength="35.5" lengthAdjust="spacingAndGlyphs">BaA</text>
<text x="53.3" y="388.5" font-family="Liberation Serif, serif" font-size="20" textLength="49.7" lengthAdjust="spacingAndGlyphs">BghiP</text>
<text x="9.0" y="415.0" font-family="Liberation Serif, serif" font-size="20" textLength="91.7" lengthAdjust="spacingAndGlyphs">2-4-nuclear</text>
<text x="9.5" y="442.3" font-family="Liberation Serif, serif" font-size="20" textLength="92.4" lengthAdjust="spacingAndGlyphs">5-6-nuclear</text>
<text x="10.2" y="468.4" font-family="Liberation Serif, serif" font-size="20" textLength="92.0" lengthAdjust="spacingAndGlyphs">Total PAHs</text>
<text x="2.4" y="498.0" font-family="Liberation Serif, serif" font-size="20" textLength="32.0" lengthAdjust="spacingAndGlyphs">LOI</text>
<text x="43.8" y="498.0" font-family="Liberation Sans, sans-serif" font-size="19.5" stroke="#111" stroke-width="0.15" textLength="54.5" lengthAdjust="spacingAndGlyphs">550° C</text>
<text x="4.7" y="524.1" font-family="Liberation Serif, serif" font-size="20" textLength="30.8" lengthAdjust="spacingAndGlyphs">LOI</text>
<text x="43.8" y="524.1" font-family="Liberation Sans, sans-serif" font-size="19.5" stroke="#111" stroke-width="0.15" textLength="54.5" lengthAdjust="spacingAndGlyphs">800° C</text>
<text x="29.6" y="550.9" font-family="Liberation Sans, sans-serif" font-size="19.5" stroke="#111" stroke-width="0.4" textLength="21.8" lengthAdjust="spacingAndGlyphs">pH</text>
<text x="55.7" y="550.9" font-family="Liberation Serif, serif" font-size="20" textLength="14.0" lengthAdjust="spacingAndGlyphs">H</text>
<text x="70.5" y="555.5" font-family="Liberation Serif, serif" font-size="13">2</text>
<text x="78.5" y="550.9" font-family="Liberation Serif, serif" font-size="20" textLength="15.0" lengthAdjust="spacingAndGlyphs">O</text>
<text x="29.6" y="577.0" font-family="Liberation Sans, sans-serif" font-size="19.5" stroke="#111" stroke-width="0.4" textLength="21.8" lengthAdjust="spacingAndGlyphs">pH</text>
<text x="55.7" y="577.0" font-family="Liberation Serif, serif" font-size="20" textLength="32.5" lengthAdjust="spacingAndGlyphs">KCl</text>
<text x="58.0" y="605.5" font-family="Liberation Sans, sans-serif" font-size="19.5" stroke="#111" stroke-width="0.15" textLength="40.3" lengthAdjust="spacingAndGlyphs">N. %</text>
<text x="57.6" y="632.1" font-family="Liberation Sans, sans-serif" font-size="19.5" stroke="#111" stroke-width="0.15" textLength="40.7" lengthAdjust="spacingAndGlyphs">C. %</text>
<text x="58.0" y="658.7" font-family="Liberation Sans, sans-serif" font-size="19.5" stroke="#111" stroke-width="0.15" textLength="40.3" lengthAdjust="spacingAndGlyphs">H. %</text>
<text x="35.5" y="683.8" font-family="Liberation Serif, serif" font-size="20" textLength="39.1" lengthAdjust="spacingAndGlyphs">PDD</text>
<text x="82.5" y="683.8" font-family="Liberation Sans, sans-serif" font-size="19.5" stroke="#111" stroke-width="0.15" textLength="15.8" lengthAdjust="spacingAndGlyphs">%</text>
<text transform="translate(134.4 109.0) rotate(-90)" x="0" y="0" font-family="Liberation Serif, serif" font-size="20" textLength="33.6" lengthAdjust="spacingAndGlyphs">NaP</text>
<text transform="translate(160.7 108.3) rotate(-90)" x="0" y="0" font-family="Liberation Serif, serif" font-size="20" textLength="25.5" lengthAdjust="spacingAndGlyphs">Flu</text>
<text transform="translate(189.6 107.7) rotate(-90)" x="0" y="0" font-family="Liberation Serif, serif" font-size="20" textLength="28.9" lengthAdjust="spacingAndGlyphs">Phe</text>
<text transform="translate(216.7 107.7) rotate(-90)" x="0" y="0" font-family="Liberation Serif, serif" font-size="20" textLength="28.9" lengthAdjust="spacingAndGlyphs">Ant</text>
<text transform="translate(243.0 108.2) rotate(-90)" x="0" y="0" font-family="Liberation Serif, serif" font-size="20" textLength="35.9" lengthAdjust="spacingAndGlyphs">FLN</text>
<text transform="translate(267.9 107.7) rotate(-90)" x="0" y="0" font-family="Liberation Serif, serif" font-size="20" textLength="27.7" lengthAdjust="spacingAndGlyphs">Pyr</text>
<text transform="translate(293.9 108.3) rotate(-90)" x="0" y="0" font-family="Liberation Serif, serif" font-size="20" textLength="32.1" lengthAdjust="spacingAndGlyphs">Chy</text>
<text transform="translate(321.5 108.3) rotate(-90)" x="0" y="0" font-family="Liberation Serif, serif" font-size="20" textLength="32.1" lengthAdjust="spacingAndGlyphs">BaP</text>
<text transform="translate(349.6 108.3) rotate(-90)" x="0" y="0" font-family="Liberation Serif, serif" font-size="20" textLength="34.7" lengthAdjust="spacingAndGlyphs">BaA</text>
<text transform="translate(376.7 108.3) rotate(-90)" x="0" y="0" font-family="Liberation Serif, serif" font-size="20" textLength="49.2" lengthAdjust="spacingAndGlyphs">BghiP</text>
<text transform="translate(404.3 106.4) rotate(-90)" x="0" y="0" font-family="Liberation Serif, serif" font-size="20" textLength="90.6" lengthAdjust="spacingAndGlyphs">2-4-nuclear</text>
<text transform="translate(431.8 106.4) rotate(-90)" x="0" y="0" font-family="Liberation Serif, serif" font-size="20" textLength="91.9" lengthAdjust="spacingAndGlyphs">5-6-nuclear</text>
<text transform="translate(458.6 107.7) rotate(-90)" x="0" y="0" font-family="Liberation Serif, serif" font-size="20" textLength="91.9" lengthAdjust="spacingAndGlyphs">Total PAHs</text>
<text transform="translate(486.7 110.3) rotate(-90)" x="0" y="0" font-family="Liberation Serif, serif" font-size="20" textLength="32.5" lengthAdjust="spacingAndGlyphs">LOI</text>
<text transform="translate(486.7 61.2) rotate(-90)" x="0" y="0" font-family="Liberation Sans, sans-serif" font-size="19.5" stroke="#111" stroke-width="0.15" textLength="56.5" lengthAdjust="spacingAndGlyphs">550° C</text>
<text transform="translate(514.3 110.3) rotate(-90)" x="0" y="0" font-family="Liberation Serif, serif" font-size="20" textLength="32.5" lengthAdjust="spacingAndGlyphs">LOI</text>
<text transform="translate(514.3 61.2) rotate(-90)" x="0" y="0" font-family="Liberation Sans, sans-serif" font-size="19.5" stroke="#111" stroke-width="0.15" textLength="56.5" lengthAdjust="spacingAndGlyphs">800° C</text>
<text transform="translate(540.4 109.8) rotate(-90)" x="0" y="0" font-family="Liberation Sans, sans-serif" font-size="19.5" stroke="#111" stroke-width="0.4" textLength="21.5" lengthAdjust="spacingAndGlyphs">pH</text>
<text transform="translate(540.6 80.5) rotate(-90)" x="0" y="0" font-family="Liberation Serif, serif" font-size="20" textLength="13.5" lengthAdjust="spacingAndGlyphs">H</text>
<text transform="translate(544.2 64.8) rotate(-90)" font-family="Liberation Serif, serif" font-size="13">2</text>
<text transform="translate(540.6 58.0) rotate(-90)" x="0" y="0" font-family="Liberation Serif, serif" font-size="20" textLength="15.5" lengthAdjust="spacingAndGlyphs">O</text>
<text transform="translate(566.7 109.8) rotate(-90)" x="0" y="0" font-family="Liberation Sans, sans-serif" font-size="19.5" stroke="#111" stroke-width="0.4" textLength="21.5" lengthAdjust="spacingAndGlyphs">pH</text>
<text transform="translate(566.9 80.5) rotate(-90)" x="0" y="0" font-family="Liberation Serif, serif" font-size="20" textLength="32.9" lengthAdjust="spacingAndGlyphs">KCl</text>
<text transform="translate(593.6 110.0) rotate(-90)" x="0" y="0" font-family="Liberation Sans, sans-serif" font-size="19.5" stroke="#111" stroke-width="0.4" textLength="12.0" lengthAdjust="spacingAndGlyphs">N</text>
<text transform="translate(593.6 86.2) rotate(-90)" x="0" y="0" font-family="Liberation Sans, sans-serif" font-size="19.5" stroke="#111" stroke-width="0.4" textLength="17.0" lengthAdjust="spacingAndGlyphs">%</text>
<text transform="translate(621.7 111.0) rotate(-90)" x="0" y="0" font-family="Liberation Sans, sans-serif" font-size="19.5" stroke="#111" stroke-width="0.4" textLength="12.5" lengthAdjust="spacingAndGlyphs">C</text>
<text transform="translate(621.7 86.2) rotate(-90)" x="0" y="0" font-family="Liberation Sans, sans-serif" font-size="19.5" stroke="#111" stroke-width="0.4" textLength="17.0" lengthAdjust="spacingAndGlyphs">%</text>
<text transform="translate(649.8 110.2) rotate(-90)" x="0" y="0" font-family="Liberation Sans, sans-serif" font-size="19.5" stroke="#111" stroke-width="0.4" textLength="11.5" lengthAdjust="spacingAndGlyphs">H</text>
<text transform="translate(649.8 86.2) rotate(-90)" x="0" y="0" font-family="Liberation Sans, sans-serif" font-size="19.5" stroke="#111" stroke-width="0.4" textLength="17.0" lengthAdjust="spacingAndGlyphs">%</text>
<text transform="translate(673.8 110.5) rotate(-90)" x="0" y="0" font-family="Liberation Serif, serif" font-size="20" textLength="38.0" lengthAdjust="spacingAndGlyphs">PDD</text>
<text x="138.6" y="757" text-anchor="middle" font-family="Liberation Serif, serif" font-size="20">-1</text>
<text x="164.6" y="757" text-anchor="middle" font-family="Liberation Serif, serif" font-size="20">-0.8</text>
<text x="197.7" y="757" text-anchor="middle" font-family="Liberation Serif, serif" font-size="20">-0.6</text>
<text x="230" y="757" text-anchor="middle" font-family="Liberation Serif, serif" font-size="20">-0.4</text>
<text x="261.2" y="757" text-anchor="middle" font-family="Liberation Serif, serif" font-size="20">-0.2</text>
<text x="289.0" y="757" text-anchor="middle" font-family="Liberation Serif, serif" font-size="20">0</text>
<text x="319.4" y="757" text-anchor="middle" font-family="Liberation Serif, serif" font-size="20">0.2</text>
<text x="349.4" y="757" text-anchor="middle" font-family="Liberation Serif, serif" font-size="20">0.4</text>
<text x="379.2" y="757" text-anchor="middle" font-family="Liberation Serif, serif" font-size="20">0.6</text>
<text x="407.2" y="757" text-anchor="middle" font-family="Liberation Serif, serif" font-size="20">0.8</text>
<text x="435" y="757" text-anchor="middle" font-family="Liberation Serif, serif" font-size="20">1</text>
</g>
</svg>
</body></html>
